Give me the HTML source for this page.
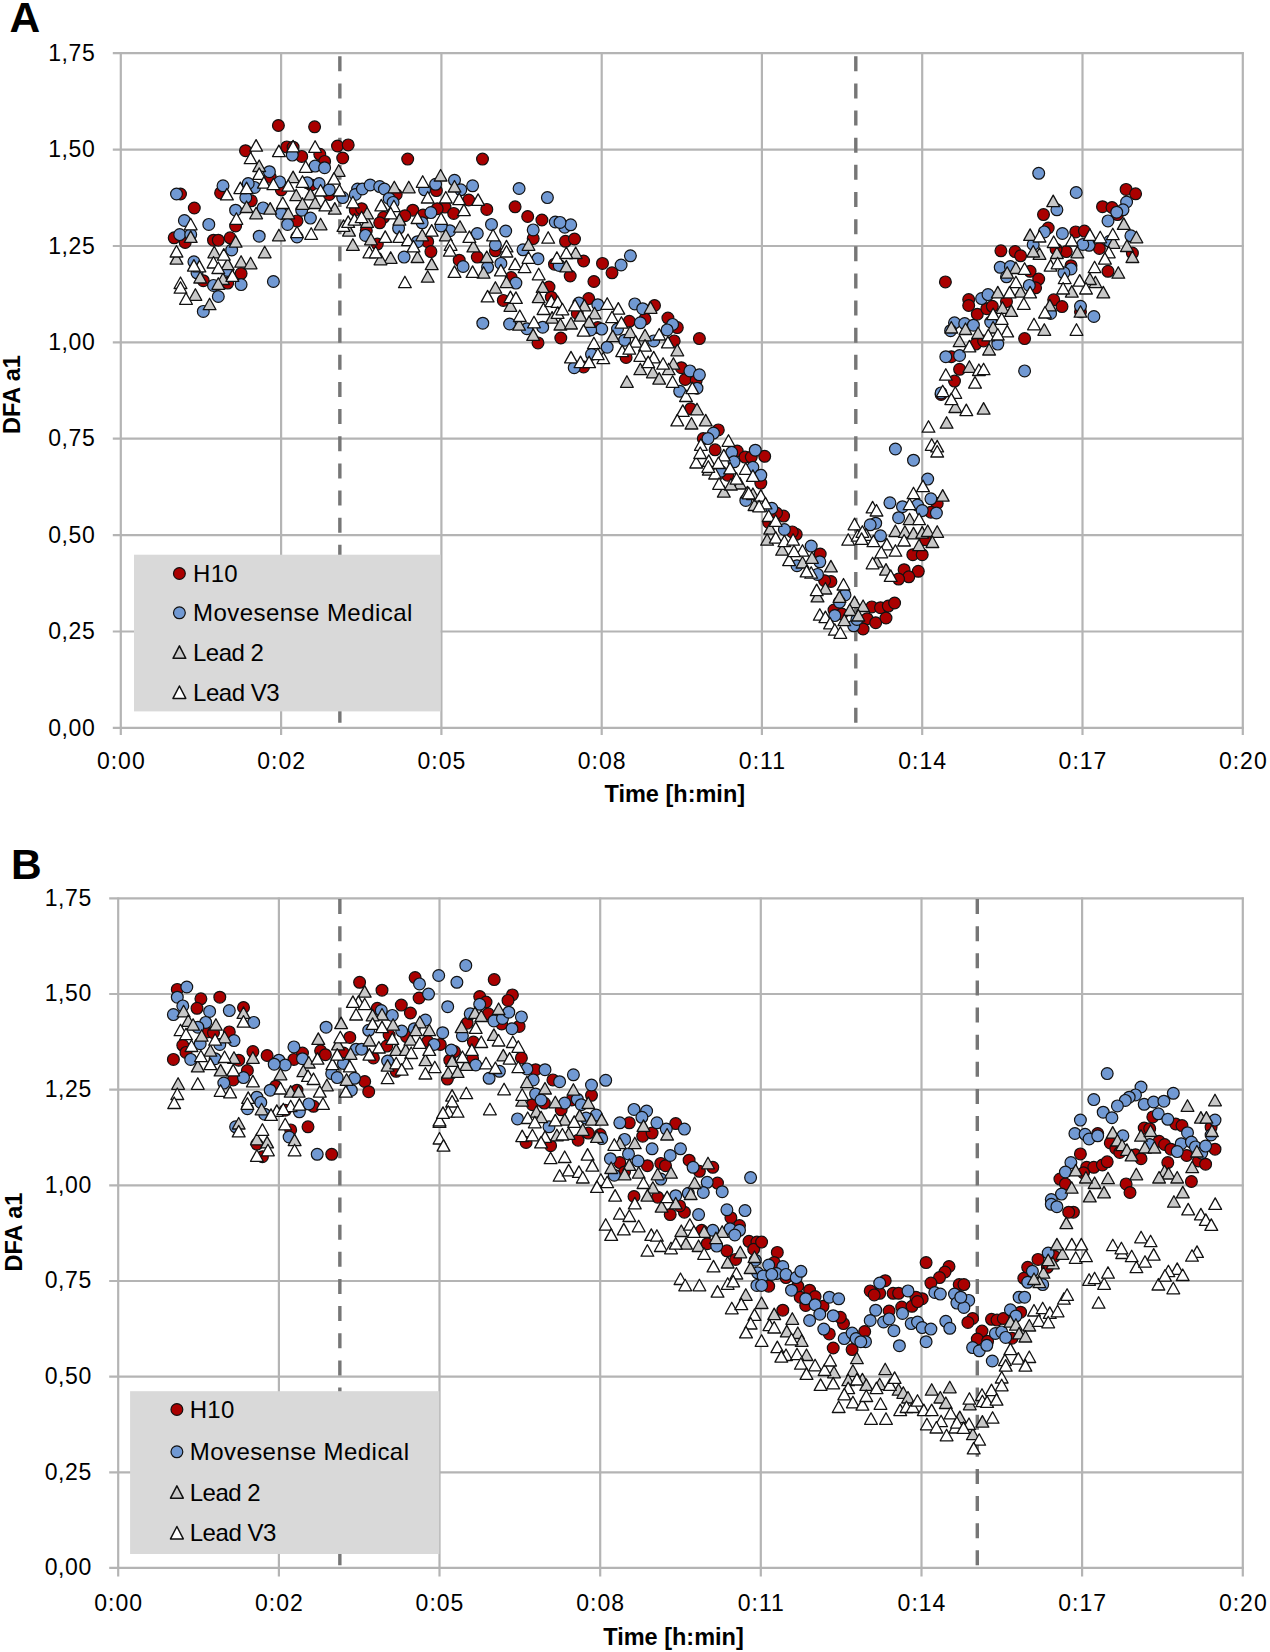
<!DOCTYPE html>
<html><head><meta charset="utf-8"><style>
html,body{margin:0;padding:0;background:#fff;}
body{width:1270px;height:1652px;overflow:hidden;}
svg{display:block;}
text{font-family:"Liberation Sans", sans-serif;fill:#000;}
.yl{font-size:23px;text-anchor:end;letter-spacing:0.6px;}
.xl{font-size:23px;text-anchor:middle;letter-spacing:1px;}
.ti{font-size:23.5px;font-weight:bold;text-anchor:middle;}
.lg{font-size:24px;letter-spacing:0.45px;}
.pl{font-size:42.5px;font-weight:bold;}
.R{stroke:#111;stroke-width:1.2;}
.B{stroke:#111;stroke-width:1.2;}
.G{stroke:#111;stroke-width:1.3;stroke-linejoin:round;}
.W{stroke:#111;stroke-width:1.3;stroke-linejoin:round;}
</style></head><body>
<svg width="1270" height="1652" viewBox="0 0 1270 1652">

<g stroke="#b4b4b4" stroke-width="2.2"><line x1="112.8" y1="53.2" x2="1243.8" y2="53.2"/><line x1="112.8" y1="149.6" x2="1243.8" y2="149.6"/><line x1="112.8" y1="246.0" x2="1243.8" y2="246.0"/><line x1="112.8" y1="342.4" x2="1243.8" y2="342.4"/><line x1="112.8" y1="438.7" x2="1243.8" y2="438.7"/><line x1="112.8" y1="535.1" x2="1243.8" y2="535.1"/><line x1="112.8" y1="631.5" x2="1243.8" y2="631.5"/><line x1="112.8" y1="727.9" x2="1243.8" y2="727.9"/><line x1="120.8" y1="52.2" x2="120.8" y2="734.9"/><line x1="281.1" y1="52.2" x2="281.1" y2="734.9"/><line x1="441.4" y1="52.2" x2="441.4" y2="734.9"/><line x1="601.7" y1="52.2" x2="601.7" y2="734.9"/><line x1="761.9" y1="52.2" x2="761.9" y2="734.9"/><line x1="922.2" y1="52.2" x2="922.2" y2="734.9"/><line x1="1082.5" y1="52.2" x2="1082.5" y2="734.9"/><line x1="1242.8" y1="52.2" x2="1242.8" y2="734.9"/></g>
<line x1="339.85" y1="56.3" x2="339.85" y2="723" stroke="#767676" stroke-width="3.4" stroke-dasharray="15 12.14"/>
<line x1="855.8" y1="56.3" x2="855.8" y2="723" stroke="#767676" stroke-width="3.4" stroke-dasharray="15 12.14"/>
<text class="yl" x="95.4" y="60.9">1,75</text>
<text class="yl" x="95.4" y="157.3">1,50</text>
<text class="yl" x="95.4" y="253.7">1,25</text>
<text class="yl" x="95.4" y="350.1">1,00</text>
<text class="yl" x="95.4" y="446.4">0,75</text>
<text class="yl" x="95.4" y="542.8">0,50</text>
<text class="yl" x="95.4" y="639.2">0,25</text>
<text class="yl" x="95.4" y="735.6">0,00</text>
<text class="xl" x="121.3" y="769.3">0:00</text>
<text class="xl" x="281.6" y="769.3">0:02</text>
<text class="xl" x="441.9" y="769.3">0:05</text>
<text class="xl" x="602.2" y="769.3">0:08</text>
<text class="xl" x="762.4" y="769.3">0:11</text>
<text class="xl" x="922.7" y="769.3">0:14</text>
<text class="xl" x="1083.0" y="769.3">0:17</text>
<text class="xl" x="1243.3" y="769.3">0:20</text>
<text class="ti" x="674.8" y="801.8">Time [h:min]</text>
<text class="ti" transform="translate(20.2,394.5) rotate(-90)" x="0" y="0">DFA a1</text>
<text class="pl" x="9.6" y="32.2">A</text>
<g class="R"><circle cx="278.4" cy="125.5" r="5.9" fill="#aa0000"/><circle cx="314.6" cy="126.8" r="5.9" fill="#aa0000"/><circle cx="245.5" cy="150.7" r="5.9" fill="#aa0000"/><circle cx="286.8" cy="146.9" r="5.9" fill="#aa0000"/><circle cx="293.1" cy="147.2" r="5.9" fill="#aa0000"/><circle cx="301.7" cy="156.4" r="5.9" fill="#aa0000"/><circle cx="319.8" cy="154.3" r="5.9" fill="#aa0000"/><circle cx="324.6" cy="161.4" r="5.9" fill="#aa0000"/><circle cx="337.5" cy="146.0" r="5.9" fill="#aa0000"/><circle cx="348.2" cy="144.9" r="5.9" fill="#aa0000"/><circle cx="342.7" cy="158.0" r="5.9" fill="#aa0000"/><circle cx="180.5" cy="194.0" r="5.9" fill="#aa0000"/><circle cx="220.6" cy="192.9" r="5.9" fill="#aa0000"/><circle cx="194.3" cy="208.0" r="5.9" fill="#aa0000"/><circle cx="251.3" cy="200.8" r="5.9" fill="#aa0000"/><circle cx="281.3" cy="189.8" r="5.9" fill="#aa0000"/><circle cx="297.0" cy="220.9" r="5.9" fill="#aa0000"/><circle cx="235.6" cy="226.0" r="5.9" fill="#aa0000"/><circle cx="174.2" cy="237.8" r="5.9" fill="#aa0000"/><circle cx="185.2" cy="242.5" r="5.9" fill="#aa0000"/><circle cx="213.5" cy="240.2" r="5.9" fill="#aa0000"/><circle cx="218.3" cy="240.2" r="5.9" fill="#aa0000"/><circle cx="230.1" cy="237.8" r="5.9" fill="#aa0000"/><circle cx="329.3" cy="194.5" r="5.9" fill="#aa0000"/><circle cx="355.3" cy="210.2" r="5.9" fill="#aa0000"/><circle cx="270.2" cy="177.2" r="5.9" fill="#aa0000"/><circle cx="311.2" cy="185.0" r="5.9" fill="#aa0000"/><circle cx="241.1" cy="273.6" r="5.9" fill="#aa0000"/><circle cx="203.3" cy="280.7" r="5.9" fill="#aa0000"/><circle cx="227.7" cy="283.1" r="5.9" fill="#aa0000"/><circle cx="407.7" cy="159.1" r="5.9" fill="#aa0000"/><circle cx="482.5" cy="159.1" r="5.9" fill="#aa0000"/><circle cx="436.4" cy="190.6" r="5.9" fill="#aa0000"/><circle cx="396.2" cy="194.5" r="5.9" fill="#aa0000"/><circle cx="468.7" cy="200.0" r="5.9" fill="#aa0000"/><circle cx="486.8" cy="209.4" r="5.9" fill="#aa0000"/><circle cx="515.1" cy="206.8" r="5.9" fill="#aa0000"/><circle cx="527.7" cy="216.5" r="5.9" fill="#aa0000"/><circle cx="541.9" cy="220.0" r="5.9" fill="#aa0000"/><circle cx="412.8" cy="210.2" r="5.9" fill="#aa0000"/><circle cx="445.0" cy="207.1" r="5.9" fill="#aa0000"/><circle cx="453.7" cy="213.4" r="5.9" fill="#aa0000"/><circle cx="404.9" cy="215.7" r="5.9" fill="#aa0000"/><circle cx="383.6" cy="217.3" r="5.9" fill="#aa0000"/><circle cx="379.7" cy="222.8" r="5.9" fill="#aa0000"/><circle cx="423.0" cy="215.0" r="5.9" fill="#aa0000"/><circle cx="437.2" cy="208.7" r="5.9" fill="#aa0000"/><circle cx="533.2" cy="238.6" r="5.9" fill="#aa0000"/><circle cx="361.6" cy="208.7" r="5.9" fill="#aa0000"/><circle cx="366.3" cy="230.7" r="5.9" fill="#aa0000"/><circle cx="427.7" cy="241.7" r="5.9" fill="#aa0000"/><circle cx="377.3" cy="244.1" r="5.9" fill="#aa0000"/><circle cx="459.2" cy="260.2" r="5.9" fill="#aa0000"/><circle cx="477.3" cy="257.1" r="5.9" fill="#aa0000"/><circle cx="495.4" cy="250.8" r="5.9" fill="#aa0000"/><circle cx="511.2" cy="277.6" r="5.9" fill="#aa0000"/><circle cx="549.0" cy="287.0" r="5.9" fill="#aa0000"/><circle cx="503.3" cy="300.4" r="5.9" fill="#aa0000"/><circle cx="538.0" cy="342.9" r="5.9" fill="#aa0000"/><circle cx="560.8" cy="338.0" r="5.9" fill="#aa0000"/><circle cx="551.3" cy="297.2" r="5.9" fill="#aa0000"/><circle cx="554.5" cy="264.2" r="5.9" fill="#aa0000"/><circle cx="430.9" cy="251.6" r="5.9" fill="#aa0000"/><circle cx="565.5" cy="241.3" r="5.9" fill="#aa0000"/><circle cx="574.5" cy="239.0" r="5.9" fill="#aa0000"/><circle cx="583.6" cy="261.0" r="5.9" fill="#aa0000"/><circle cx="602.5" cy="263.4" r="5.9" fill="#aa0000"/><circle cx="612.0" cy="272.8" r="5.9" fill="#aa0000"/><circle cx="570.2" cy="276.0" r="5.9" fill="#aa0000"/><circle cx="593.9" cy="281.5" r="5.9" fill="#aa0000"/><circle cx="588.7" cy="298.6" r="5.9" fill="#aa0000"/><circle cx="629.3" cy="321.3" r="5.9" fill="#aa0000"/><circle cx="645.0" cy="318.9" r="5.9" fill="#aa0000"/><circle cx="654.5" cy="305.5" r="5.9" fill="#aa0000"/><circle cx="667.9" cy="318.1" r="5.9" fill="#aa0000"/><circle cx="677.3" cy="327.6" r="5.9" fill="#aa0000"/><circle cx="674.2" cy="340.9" r="5.9" fill="#aa0000"/><circle cx="699.4" cy="338.6" r="5.9" fill="#aa0000"/><circle cx="597.8" cy="327.6" r="5.9" fill="#aa0000"/><circle cx="626.1" cy="357.5" r="5.9" fill="#aa0000"/><circle cx="681.3" cy="367.7" r="5.9" fill="#aa0000"/><circle cx="685.2" cy="379.5" r="5.9" fill="#aa0000"/><circle cx="696.2" cy="380.3" r="5.9" fill="#aa0000"/><circle cx="690.7" cy="408.7" r="5.9" fill="#aa0000"/><circle cx="718.3" cy="429.9" r="5.9" fill="#aa0000"/><circle cx="703.3" cy="438.6" r="5.9" fill="#aa0000"/><circle cx="715.1" cy="449.8" r="5.9" fill="#aa0000"/><circle cx="737.2" cy="451.0" r="5.9" fill="#aa0000"/><circle cx="577.3" cy="313.4" r="5.9" fill="#aa0000"/><circle cx="583.6" cy="366.9" r="5.9" fill="#aa0000"/><circle cx="745.0" cy="457.1" r="5.9" fill="#aa0000"/><circle cx="751.3" cy="457.1" r="5.9" fill="#aa0000"/><circle cx="764.7" cy="456.3" r="5.9" fill="#aa0000"/><circle cx="727.7" cy="475.2" r="5.9" fill="#aa0000"/><circle cx="760.8" cy="483.1" r="5.9" fill="#aa0000"/><circle cx="783.6" cy="516.1" r="5.9" fill="#aa0000"/><circle cx="776.5" cy="513.0" r="5.9" fill="#aa0000"/><circle cx="796.2" cy="534.3" r="5.9" fill="#aa0000"/><circle cx="792.3" cy="531.9" r="5.9" fill="#aa0000"/><circle cx="820.2" cy="554.0" r="5.9" fill="#aa0000"/><circle cx="830.9" cy="581.5" r="5.9" fill="#aa0000"/><circle cx="824.6" cy="580.7" r="5.9" fill="#aa0000"/><circle cx="768.7" cy="522.4" r="5.9" fill="#aa0000"/><circle cx="951.3" cy="356.7" r="5.9" fill="#aa0000"/><circle cx="959.6" cy="369.3" r="5.9" fill="#aa0000"/><circle cx="954.5" cy="381.1" r="5.9" fill="#aa0000"/><circle cx="941.1" cy="394.5" r="5.9" fill="#aa0000"/><circle cx="937.2" cy="503.5" r="5.9" fill="#aa0000"/><circle cx="930.9" cy="512.2" r="5.9" fill="#aa0000"/><circle cx="925.4" cy="539.8" r="5.9" fill="#aa0000"/><circle cx="912.8" cy="554.7" r="5.9" fill="#aa0000"/><circle cx="922.2" cy="554.7" r="5.9" fill="#aa0000"/><circle cx="904.1" cy="569.7" r="5.9" fill="#aa0000"/><circle cx="918.3" cy="571.3" r="5.9" fill="#aa0000"/><circle cx="908.8" cy="576.8" r="5.9" fill="#aa0000"/><circle cx="898.6" cy="579.1" r="5.9" fill="#aa0000"/><circle cx="834.0" cy="610.1" r="5.9" fill="#aa0000"/><circle cx="841.9" cy="614.0" r="5.9" fill="#aa0000"/><circle cx="871.8" cy="606.9" r="5.9" fill="#aa0000"/><circle cx="880.5" cy="607.7" r="5.9" fill="#aa0000"/><circle cx="888.3" cy="606.1" r="5.9" fill="#aa0000"/><circle cx="894.6" cy="603.0" r="5.9" fill="#aa0000"/><circle cx="867.1" cy="618.7" r="5.9" fill="#aa0000"/><circle cx="875.7" cy="622.7" r="5.9" fill="#aa0000"/><circle cx="886.0" cy="618.0" r="5.9" fill="#aa0000"/><circle cx="863.1" cy="629.0" r="5.9" fill="#aa0000"/><circle cx="1126.1" cy="189.4" r="5.9" fill="#aa0000"/><circle cx="1135.6" cy="193.8" r="5.9" fill="#aa0000"/><circle cx="1102.5" cy="206.7" r="5.9" fill="#aa0000"/><circle cx="1112.0" cy="207.5" r="5.9" fill="#aa0000"/><circle cx="1117.5" cy="214.6" r="5.9" fill="#aa0000"/><circle cx="1043.5" cy="214.6" r="5.9" fill="#aa0000"/><circle cx="1048.2" cy="228.0" r="5.9" fill="#aa0000"/><circle cx="1075.7" cy="231.9" r="5.9" fill="#aa0000"/><circle cx="1084.4" cy="231.1" r="5.9" fill="#aa0000"/><circle cx="1099.4" cy="248.4" r="5.9" fill="#aa0000"/><circle cx="1132.4" cy="253.1" r="5.9" fill="#aa0000"/><circle cx="1066.3" cy="251.6" r="5.9" fill="#aa0000"/><circle cx="1056.1" cy="249.2" r="5.9" fill="#aa0000"/><circle cx="1000.9" cy="250.8" r="5.9" fill="#aa0000"/><circle cx="1015.1" cy="251.6" r="5.9" fill="#aa0000"/><circle cx="1020.6" cy="255.8" r="5.9" fill="#aa0000"/><circle cx="1030.1" cy="271.3" r="5.9" fill="#aa0000"/><circle cx="1038.7" cy="279.1" r="5.9" fill="#aa0000"/><circle cx="1035.6" cy="287.8" r="5.9" fill="#aa0000"/><circle cx="1071.0" cy="265.7" r="5.9" fill="#aa0000"/><circle cx="1108.0" cy="271.3" r="5.9" fill="#aa0000"/><circle cx="1053.7" cy="299.8" r="5.9" fill="#aa0000"/><circle cx="968.7" cy="299.6" r="5.9" fill="#aa0000"/><circle cx="968.7" cy="305.5" r="5.9" fill="#aa0000"/><circle cx="977.3" cy="314.2" r="5.9" fill="#aa0000"/><circle cx="986.8" cy="308.7" r="5.9" fill="#aa0000"/><circle cx="992.3" cy="306.3" r="5.9" fill="#aa0000"/><circle cx="1006.5" cy="301.6" r="5.9" fill="#aa0000"/><circle cx="1062.0" cy="306.6" r="5.9" fill="#aa0000"/><circle cx="1024.6" cy="338.6" r="5.9" fill="#aa0000"/><circle cx="975.7" cy="344.1" r="5.9" fill="#aa0000"/><circle cx="983.6" cy="340.9" r="5.9" fill="#aa0000"/><circle cx="1080.5" cy="311.8" r="5.9" fill="#aa0000"/><circle cx="945.4" cy="281.9" r="5.9" fill="#aa0000"/></g>
<g class="B"><circle cx="176.5" cy="194.0" r="5.9" fill="#7199d3"/><circle cx="223.0" cy="185.8" r="5.9" fill="#7199d3"/><circle cx="269.4" cy="171.7" r="5.9" fill="#7199d3"/><circle cx="279.7" cy="181.9" r="5.9" fill="#7199d3"/><circle cx="315.1" cy="166.1" r="5.9" fill="#7199d3"/><circle cx="324.6" cy="167.7" r="5.9" fill="#7199d3"/><circle cx="254.5" cy="187.4" r="5.9" fill="#7199d3"/><circle cx="248.2" cy="183.5" r="5.9" fill="#7199d3"/><circle cx="245.8" cy="197.6" r="5.9" fill="#7199d3"/><circle cx="235.6" cy="210.2" r="5.9" fill="#7199d3"/><circle cx="263.1" cy="207.9" r="5.9" fill="#7199d3"/><circle cx="281.3" cy="213.4" r="5.9" fill="#7199d3"/><circle cx="301.7" cy="210.2" r="5.9" fill="#7199d3"/><circle cx="310.4" cy="218.1" r="5.9" fill="#7199d3"/><circle cx="287.6" cy="224.4" r="5.9" fill="#7199d3"/><circle cx="297.0" cy="237.0" r="5.9" fill="#7199d3"/><circle cx="259.2" cy="236.2" r="5.9" fill="#7199d3"/><circle cx="184.4" cy="220.5" r="5.9" fill="#7199d3"/><circle cx="208.8" cy="224.4" r="5.9" fill="#7199d3"/><circle cx="179.7" cy="234.6" r="5.9" fill="#7199d3"/><circle cx="190.7" cy="234.6" r="5.9" fill="#7199d3"/><circle cx="319.1" cy="183.5" r="5.9" fill="#7199d3"/><circle cx="307.2" cy="182.7" r="5.9" fill="#7199d3"/><circle cx="329.3" cy="189.8" r="5.9" fill="#7199d3"/><circle cx="342.7" cy="197.6" r="5.9" fill="#7199d3"/><circle cx="357.6" cy="189.0" r="5.9" fill="#7199d3"/><circle cx="355.3" cy="194.5" r="5.9" fill="#7199d3"/><circle cx="292.3" cy="155.1" r="5.9" fill="#7199d3"/><circle cx="193.9" cy="261.8" r="5.9" fill="#7199d3"/><circle cx="197.0" cy="272.8" r="5.9" fill="#7199d3"/><circle cx="213.5" cy="285.4" r="5.9" fill="#7199d3"/><circle cx="241.1" cy="284.6" r="5.9" fill="#7199d3"/><circle cx="273.4" cy="281.5" r="5.9" fill="#7199d3"/><circle cx="218.3" cy="296.5" r="5.9" fill="#7199d3"/><circle cx="203.3" cy="311.4" r="5.9" fill="#7199d3"/><circle cx="227.7" cy="270.5" r="5.9" fill="#7199d3"/><circle cx="231.7" cy="250.0" r="5.9" fill="#7199d3"/><circle cx="362.4" cy="189.0" r="5.9" fill="#7199d3"/><circle cx="370.2" cy="185.0" r="5.9" fill="#7199d3"/><circle cx="379.7" cy="186.6" r="5.9" fill="#7199d3"/><circle cx="384.4" cy="189.0" r="5.9" fill="#7199d3"/><circle cx="435.6" cy="184.3" r="5.9" fill="#7199d3"/><circle cx="454.5" cy="180.3" r="5.9" fill="#7199d3"/><circle cx="460.8" cy="189.8" r="5.9" fill="#7199d3"/><circle cx="472.6" cy="185.8" r="5.9" fill="#7199d3"/><circle cx="519.1" cy="188.5" r="5.9" fill="#7199d3"/><circle cx="547.4" cy="197.6" r="5.9" fill="#7199d3"/><circle cx="555.3" cy="222.0" r="5.9" fill="#7199d3"/><circle cx="389.1" cy="198.4" r="5.9" fill="#7199d3"/><circle cx="393.1" cy="202.4" r="5.9" fill="#7199d3"/><circle cx="430.9" cy="212.6" r="5.9" fill="#7199d3"/><circle cx="422.2" cy="222.8" r="5.9" fill="#7199d3"/><circle cx="398.6" cy="228.3" r="5.9" fill="#7199d3"/><circle cx="491.5" cy="224.4" r="5.9" fill="#7199d3"/><circle cx="505.7" cy="231.0" r="5.9" fill="#7199d3"/><circle cx="533.2" cy="229.9" r="5.9" fill="#7199d3"/><circle cx="477.3" cy="233.5" r="5.9" fill="#7199d3"/><circle cx="449.8" cy="230.7" r="5.9" fill="#7199d3"/><circle cx="365.5" cy="235.4" r="5.9" fill="#7199d3"/><circle cx="495.4" cy="244.9" r="5.9" fill="#7199d3"/><circle cx="441.1" cy="226.0" r="5.9" fill="#7199d3"/><circle cx="417.5" cy="241.7" r="5.9" fill="#7199d3"/><circle cx="523.0" cy="249.8" r="5.9" fill="#7199d3"/><circle cx="424.6" cy="189.8" r="5.9" fill="#7199d3"/><circle cx="404.1" cy="257.1" r="5.9" fill="#7199d3"/><circle cx="463.1" cy="266.5" r="5.9" fill="#7199d3"/><circle cx="487.6" cy="267.3" r="5.9" fill="#7199d3"/><circle cx="500.9" cy="263.4" r="5.9" fill="#7199d3"/><circle cx="515.9" cy="283.1" r="5.9" fill="#7199d3"/><circle cx="538.0" cy="258.7" r="5.9" fill="#7199d3"/><circle cx="482.8" cy="323.2" r="5.9" fill="#7199d3"/><circle cx="509.6" cy="324.0" r="5.9" fill="#7199d3"/><circle cx="526.9" cy="328.7" r="5.9" fill="#7199d3"/><circle cx="542.7" cy="327.2" r="5.9" fill="#7199d3"/><circle cx="559.2" cy="265.4" r="5.9" fill="#7199d3"/><circle cx="564.7" cy="227.2" r="5.9" fill="#7199d3"/><circle cx="570.7" cy="224.8" r="5.9" fill="#7199d3"/><circle cx="560.0" cy="222.4" r="5.9" fill="#7199d3"/><circle cx="630.4" cy="255.8" r="5.9" fill="#7199d3"/><circle cx="621.1" cy="265.0" r="5.9" fill="#7199d3"/><circle cx="597.8" cy="304.7" r="5.9" fill="#7199d3"/><circle cx="634.8" cy="303.9" r="5.9" fill="#7199d3"/><circle cx="642.7" cy="308.7" r="5.9" fill="#7199d3"/><circle cx="640.3" cy="322.8" r="5.9" fill="#7199d3"/><circle cx="672.6" cy="324.4" r="5.9" fill="#7199d3"/><circle cx="667.1" cy="329.9" r="5.9" fill="#7199d3"/><circle cx="601.7" cy="329.1" r="5.9" fill="#7199d3"/><circle cx="617.5" cy="329.1" r="5.9" fill="#7199d3"/><circle cx="624.6" cy="340.2" r="5.9" fill="#7199d3"/><circle cx="607.2" cy="347.2" r="5.9" fill="#7199d3"/><circle cx="653.7" cy="340.9" r="5.9" fill="#7199d3"/><circle cx="574.2" cy="367.7" r="5.9" fill="#7199d3"/><circle cx="689.9" cy="370.9" r="5.9" fill="#7199d3"/><circle cx="699.4" cy="374.8" r="5.9" fill="#7199d3"/><circle cx="697.0" cy="388.2" r="5.9" fill="#7199d3"/><circle cx="679.7" cy="391.3" r="5.9" fill="#7199d3"/><circle cx="713.5" cy="433.1" r="5.9" fill="#7199d3"/><circle cx="708.0" cy="438.6" r="5.9" fill="#7199d3"/><circle cx="755.3" cy="450.2" r="5.9" fill="#7199d3"/><circle cx="578.9" cy="303.1" r="5.9" fill="#7199d3"/><circle cx="590.7" cy="329.9" r="5.9" fill="#7199d3"/><circle cx="591.5" cy="354.3" r="5.9" fill="#7199d3"/><circle cx="731.7" cy="452.4" r="5.9" fill="#7199d3"/><circle cx="734.0" cy="461.8" r="5.9" fill="#7199d3"/><circle cx="752.9" cy="467.3" r="5.9" fill="#7199d3"/><circle cx="760.8" cy="475.2" r="5.9" fill="#7199d3"/><circle cx="745.8" cy="500.4" r="5.9" fill="#7199d3"/><circle cx="771.8" cy="508.3" r="5.9" fill="#7199d3"/><circle cx="784.4" cy="529.5" r="5.9" fill="#7199d3"/><circle cx="811.2" cy="546.1" r="5.9" fill="#7199d3"/><circle cx="819.8" cy="561.8" r="5.9" fill="#7199d3"/><circle cx="797.0" cy="565.7" r="5.9" fill="#7199d3"/><circle cx="817.5" cy="574.4" r="5.9" fill="#7199d3"/><circle cx="845.0" cy="594.9" r="5.9" fill="#7199d3"/><circle cx="720.6" cy="471.3" r="5.9" fill="#7199d3"/><circle cx="954.5" cy="322.8" r="5.9" fill="#7199d3"/><circle cx="950.6" cy="330.7" r="5.9" fill="#7199d3"/><circle cx="945.8" cy="356.7" r="5.9" fill="#7199d3"/><circle cx="959.6" cy="355.5" r="5.9" fill="#7199d3"/><circle cx="941.1" cy="392.9" r="5.9" fill="#7199d3"/><circle cx="895.4" cy="449.0" r="5.9" fill="#7199d3"/><circle cx="913.5" cy="460.2" r="5.9" fill="#7199d3"/><circle cx="927.7" cy="479.1" r="5.9" fill="#7199d3"/><circle cx="889.9" cy="502.8" r="5.9" fill="#7199d3"/><circle cx="902.5" cy="506.7" r="5.9" fill="#7199d3"/><circle cx="917.5" cy="505.1" r="5.9" fill="#7199d3"/><circle cx="922.2" cy="510.6" r="5.9" fill="#7199d3"/><circle cx="930.9" cy="498.8" r="5.9" fill="#7199d3"/><circle cx="936.4" cy="513.0" r="5.9" fill="#7199d3"/><circle cx="898.6" cy="517.7" r="5.9" fill="#7199d3"/><circle cx="875.7" cy="523.2" r="5.9" fill="#7199d3"/><circle cx="870.2" cy="524.8" r="5.9" fill="#7199d3"/><circle cx="880.5" cy="535.8" r="5.9" fill="#7199d3"/><circle cx="834.8" cy="615.6" r="5.9" fill="#7199d3"/><circle cx="853.7" cy="625.8" r="5.9" fill="#7199d3"/><circle cx="856.9" cy="619.5" r="5.9" fill="#7199d3"/><circle cx="839.5" cy="602.2" r="5.9" fill="#7199d3"/><circle cx="1038.7" cy="173.3" r="5.9" fill="#7199d3"/><circle cx="1076.2" cy="192.5" r="5.9" fill="#7199d3"/><circle cx="1056.9" cy="209.8" r="5.9" fill="#7199d3"/><circle cx="1126.6" cy="202.0" r="5.9" fill="#7199d3"/><circle cx="1123.0" cy="209.8" r="5.9" fill="#7199d3"/><circle cx="1116.7" cy="212.2" r="5.9" fill="#7199d3"/><circle cx="1108.0" cy="220.9" r="5.9" fill="#7199d3"/><circle cx="1044.3" cy="231.9" r="5.9" fill="#7199d3"/><circle cx="1062.4" cy="233.5" r="5.9" fill="#7199d3"/><circle cx="1130.9" cy="235.8" r="5.9" fill="#7199d3"/><circle cx="1033.2" cy="244.5" r="5.9" fill="#7199d3"/><circle cx="1089.1" cy="245.3" r="5.9" fill="#7199d3"/><circle cx="1082.8" cy="244.5" r="5.9" fill="#7199d3"/><circle cx="1000.2" cy="267.3" r="5.9" fill="#7199d3"/><circle cx="1010.4" cy="266.5" r="5.9" fill="#7199d3"/><circle cx="1006.5" cy="276.8" r="5.9" fill="#7199d3"/><circle cx="1029.3" cy="285.4" r="5.9" fill="#7199d3"/><circle cx="1071.0" cy="268.9" r="5.9" fill="#7199d3"/><circle cx="1063.9" cy="272.8" r="5.9" fill="#7199d3"/><circle cx="981.6" cy="298.6" r="5.9" fill="#7199d3"/><circle cx="988.0" cy="294.6" r="5.9" fill="#7199d3"/><circle cx="1109.6" cy="241.3" r="5.9" fill="#7199d3"/><circle cx="964.7" cy="323.6" r="5.9" fill="#7199d3"/><circle cx="973.4" cy="325.2" r="5.9" fill="#7199d3"/><circle cx="990.7" cy="322.0" r="5.9" fill="#7199d3"/><circle cx="997.8" cy="344.1" r="5.9" fill="#7199d3"/><circle cx="1024.6" cy="370.9" r="5.9" fill="#7199d3"/><circle cx="1080.5" cy="306.3" r="5.9" fill="#7199d3"/><circle cx="1093.9" cy="316.5" r="5.9" fill="#7199d3"/><circle cx="1050.6" cy="313.4" r="5.9" fill="#7199d3"/></g>
<g class="G"><path d="M259.2 160.0L265.6 171.5H252.8Z" fill="#c8c8c8"/><path d="M293.1 171.1L299.5 182.6H286.7Z" fill="#c8c8c8"/><path d="M246.6 201.0L253.0 212.5H240.2Z" fill="#c8c8c8"/><path d="M256.1 207.3L262.5 218.8H249.7Z" fill="#c8c8c8"/><path d="M270.2 202.6L276.6 214.1H263.8Z" fill="#c8c8c8"/><path d="M288.3 207.3L294.7 218.8H281.9Z" fill="#c8c8c8"/><path d="M296.2 189.2L302.6 200.7H289.8Z" fill="#c8c8c8"/><path d="M310.4 188.4L316.8 199.9H304.0Z" fill="#c8c8c8"/><path d="M315.1 197.0L321.5 208.5H308.7Z" fill="#c8c8c8"/><path d="M320.6 218.3L327.0 229.8H314.2Z" fill="#c8c8c8"/><path d="M334.8 202.6L341.2 214.1H328.4Z" fill="#c8c8c8"/><path d="M338.7 164.8L345.1 176.3H332.3Z" fill="#c8c8c8"/><path d="M302.5 197.8L308.9 209.3H296.1Z" fill="#c8c8c8"/><path d="M190.7 230.9L197.1 242.4H184.3Z" fill="#c8c8c8"/><path d="M235.6 235.6L242.0 247.1H229.2Z" fill="#c8c8c8"/><path d="M278.9 229.3L285.3 240.8H272.5Z" fill="#c8c8c8"/><path d="M349.0 224.6L355.4 236.1H342.6Z" fill="#c8c8c8"/><path d="M352.9 238.8L359.3 250.3H346.5Z" fill="#c8c8c8"/><path d="M176.5 252.6L182.9 264.1H170.1Z" fill="#c8c8c8"/><path d="M214.3 246.3L220.7 257.8H207.9Z" fill="#c8c8c8"/><path d="M264.7 246.3L271.1 257.8H258.3Z" fill="#c8c8c8"/><path d="M227.7 258.1L234.1 269.6H221.3Z" fill="#c8c8c8"/><path d="M241.1 255.7L247.5 267.2H234.7Z" fill="#c8c8c8"/><path d="M250.6 257.3L257.0 268.8H244.2Z" fill="#c8c8c8"/><path d="M200.2 271.5L206.6 283.0H193.8Z" fill="#c8c8c8"/><path d="M223.0 273.0L229.4 284.5H216.6Z" fill="#c8c8c8"/><path d="M218.3 277.8L224.7 289.3H211.9Z" fill="#c8c8c8"/><path d="M195.4 288.8L201.8 300.3H189.0Z" fill="#c8c8c8"/><path d="M209.6 298.2L216.0 309.7H203.2Z" fill="#c8c8c8"/><path d="M440.6 169.5L447.0 181.0H434.2Z" fill="#c8c8c8"/><path d="M394.3 181.3L400.7 192.8H387.9Z" fill="#c8c8c8"/><path d="M408.8 181.3L415.2 192.8H402.4Z" fill="#c8c8c8"/><path d="M454.5 180.5L460.9 192.0H448.1Z" fill="#c8c8c8"/><path d="M399.4 213.6L405.8 225.1H393.0Z" fill="#c8c8c8"/><path d="M367.1 215.9L373.5 227.4H360.7Z" fill="#c8c8c8"/><path d="M460.0 220.7L466.4 232.2H453.6Z" fill="#c8c8c8"/><path d="M422.2 229.3L428.6 240.8H415.8Z" fill="#c8c8c8"/><path d="M445.8 229.3L452.2 240.8H439.4Z" fill="#c8c8c8"/><path d="M371.0 233.3L377.4 244.8H364.6Z" fill="#c8c8c8"/><path d="M528.5 238.8L534.9 250.3H522.1Z" fill="#c8c8c8"/><path d="M473.4 240.4L479.8 251.9H467.0Z" fill="#c8c8c8"/><path d="M367.1 207.3L373.5 218.8H360.7Z" fill="#c8c8c8"/><path d="M390.7 251.8L397.1 263.3H384.3Z" fill="#c8c8c8"/><path d="M380.5 253.3L386.9 264.8H374.1Z" fill="#c8c8c8"/><path d="M417.5 251.0L423.9 262.5H411.1Z" fill="#c8c8c8"/><path d="M431.7 258.1L438.1 269.6H425.3Z" fill="#c8c8c8"/><path d="M427.7 270.7L434.1 282.2H421.3Z" fill="#c8c8c8"/><path d="M486.8 251.0L493.2 262.5H480.4Z" fill="#c8c8c8"/><path d="M483.6 266.7L490.0 278.2H477.2Z" fill="#c8c8c8"/><path d="M506.5 276.2L512.9 287.7H500.1Z" fill="#c8c8c8"/><path d="M495.4 281.7L501.8 293.2H489.0Z" fill="#c8c8c8"/><path d="M542.7 280.9L549.1 292.4H536.3Z" fill="#c8c8c8"/><path d="M538.7 291.1L545.1 302.6H532.3Z" fill="#c8c8c8"/><path d="M510.4 299.8L516.8 311.3H504.0Z" fill="#c8c8c8"/><path d="M552.1 311.6L558.5 323.1H545.7Z" fill="#c8c8c8"/><path d="M533.2 328.9L539.6 340.4H526.8Z" fill="#c8c8c8"/><path d="M519.1 318.7L525.5 330.2H512.7Z" fill="#c8c8c8"/><path d="M560.4 318.5L566.8 330.0H554.0Z" fill="#c8c8c8"/><path d="M575.7 247.0L582.1 258.5H569.3Z" fill="#c8c8c8"/><path d="M566.3 260.4L572.7 271.9H559.9Z" fill="#c8c8c8"/><path d="M584.4 299.4L590.8 310.9H578.0Z" fill="#c8c8c8"/><path d="M580.5 309.6L586.9 321.1H574.1Z" fill="#c8c8c8"/><path d="M594.6 307.3L601.0 318.8H588.2Z" fill="#c8c8c8"/><path d="M571.0 317.5L577.4 329.0H564.6Z" fill="#c8c8c8"/><path d="M589.1 315.9L595.5 327.4H582.7Z" fill="#c8c8c8"/><path d="M612.8 330.1L619.2 341.6H606.4Z" fill="#c8c8c8"/><path d="M630.1 326.2L636.5 337.7H623.7Z" fill="#c8c8c8"/><path d="M645.0 329.3L651.4 340.8H638.6Z" fill="#c8c8c8"/><path d="M677.3 344.3L683.7 355.8H670.9Z" fill="#c8c8c8"/><path d="M650.6 301.8L657.0 313.3H644.2Z" fill="#c8c8c8"/><path d="M673.4 357.7L679.8 369.2H667.0Z" fill="#c8c8c8"/><path d="M640.3 363.2L646.7 374.7H633.9Z" fill="#c8c8c8"/><path d="M626.9 375.8L633.3 387.3H620.5Z" fill="#c8c8c8"/><path d="M652.9 366.3L659.3 377.8H646.5Z" fill="#c8c8c8"/><path d="M659.2 372.6L665.6 384.1H652.8Z" fill="#c8c8c8"/><path d="M697.0 403.3L703.4 414.8H690.6Z" fill="#c8c8c8"/><path d="M691.5 417.5L697.9 429.0H685.1Z" fill="#c8c8c8"/><path d="M705.7 414.4L712.1 425.9H699.3Z" fill="#c8c8c8"/><path d="M668.7 363.2L675.1 374.7H662.3Z" fill="#c8c8c8"/><path d="M708.8 463.6L715.2 475.1H702.4Z" fill="#c8c8c8"/><path d="M723.8 485.6L730.2 497.1H717.4Z" fill="#c8c8c8"/><path d="M739.9 477.5L746.3 489.0H733.5Z" fill="#c8c8c8"/><path d="M747.4 486.4L753.8 497.9H741.0Z" fill="#c8c8c8"/><path d="M752.9 488.0L759.3 499.5H746.5Z" fill="#c8c8c8"/><path d="M754.5 499.0L760.9 510.5H748.1Z" fill="#c8c8c8"/><path d="M770.2 522.6L776.6 534.1H763.8Z" fill="#c8c8c8"/><path d="M767.1 533.7L773.5 545.2H760.7Z" fill="#c8c8c8"/><path d="M782.1 543.7L788.5 555.2H775.7Z" fill="#c8c8c8"/><path d="M802.5 556.5L808.9 568.0H796.1Z" fill="#c8c8c8"/><path d="M812.0 551.8L818.4 563.3H805.6Z" fill="#c8c8c8"/><path d="M830.9 560.4L837.3 571.9H824.5Z" fill="#c8c8c8"/><path d="M825.4 582.5L831.8 594.0H819.0Z" fill="#c8c8c8"/><path d="M839.5 590.9L845.9 602.4H833.1Z" fill="#c8c8c8"/><path d="M817.5 590.4L823.9 601.9H811.1Z" fill="#c8c8c8"/><path d="M730.9 478.5L737.3 490.0H724.5Z" fill="#c8c8c8"/><path d="M951.3 321.5L957.7 333.0H944.9Z" fill="#c8c8c8"/><path d="M959.6 335.2L966.0 346.7H953.2Z" fill="#c8c8c8"/><path d="M955.3 401.0L961.7 412.5H948.9Z" fill="#c8c8c8"/><path d="M946.6 416.7L953.0 428.2H940.2Z" fill="#c8c8c8"/><path d="M909.6 513.2L916.0 524.7H903.2Z" fill="#c8c8c8"/><path d="M942.7 489.6L949.1 501.1H936.3Z" fill="#c8c8c8"/><path d="M895.4 525.0L901.8 536.5H889.0Z" fill="#c8c8c8"/><path d="M904.9 525.8L911.3 537.3H898.5Z" fill="#c8c8c8"/><path d="M913.5 527.4L919.9 538.9H907.1Z" fill="#c8c8c8"/><path d="M922.2 526.6L928.6 538.1H915.8Z" fill="#c8c8c8"/><path d="M927.7 525.0L934.1 536.5H921.3Z" fill="#c8c8c8"/><path d="M937.2 525.8L943.6 537.3H930.8Z" fill="#c8c8c8"/><path d="M919.1 539.2L925.5 550.7H912.7Z" fill="#c8c8c8"/><path d="M932.4 536.0L938.8 547.5H926.0Z" fill="#c8c8c8"/><path d="M876.5 555.7L882.9 567.2H870.1Z" fill="#c8c8c8"/><path d="M886.0 563.6L892.4 575.1H879.6Z" fill="#c8c8c8"/><path d="M861.6 528.9L868.0 540.4H855.2Z" fill="#c8c8c8"/><path d="M854.5 596.1L860.9 607.6H848.1Z" fill="#c8c8c8"/><path d="M863.1 600.0L869.5 611.5H856.7Z" fill="#c8c8c8"/><path d="M849.8 604.0L856.2 615.5H843.4Z" fill="#c8c8c8"/><path d="M858.4 609.5L864.8 621.0H852.0Z" fill="#c8c8c8"/><path d="M844.3 614.2L850.7 625.7H837.9Z" fill="#c8c8c8"/><path d="M1053.2 195.1L1059.6 206.6H1046.8Z" fill="#c8c8c8"/><path d="M1030.1 228.9L1036.5 240.4H1023.7Z" fill="#c8c8c8"/><path d="M1123.8 217.9L1130.2 229.4H1117.4Z" fill="#c8c8c8"/><path d="M1136.4 231.3L1142.8 242.8H1130.0Z" fill="#c8c8c8"/><path d="M1113.5 236.8L1119.9 248.3H1107.1Z" fill="#c8c8c8"/><path d="M1126.9 240.0L1133.3 251.5H1120.5Z" fill="#c8c8c8"/><path d="M1132.4 251.0L1138.8 262.5H1126.0Z" fill="#c8c8c8"/><path d="M1039.5 247.8L1045.9 259.3H1033.1Z" fill="#c8c8c8"/><path d="M1033.2 245.5L1039.6 257.0H1026.8Z" fill="#c8c8c8"/><path d="M1056.9 247.0L1063.3 258.5H1050.5Z" fill="#c8c8c8"/><path d="M1077.3 246.3L1083.7 257.8H1070.9Z" fill="#c8c8c8"/><path d="M1015.9 262.0L1022.3 273.5H1009.5Z" fill="#c8c8c8"/><path d="M1007.2 266.7L1013.6 278.2H1000.8Z" fill="#c8c8c8"/><path d="M997.8 286.4L1004.2 297.9H991.4Z" fill="#c8c8c8"/><path d="M1020.6 285.6L1027.0 297.1H1014.2Z" fill="#c8c8c8"/><path d="M1071.8 285.6L1078.2 297.1H1065.4Z" fill="#c8c8c8"/><path d="M1095.4 276.2L1101.8 287.7H1089.0Z" fill="#c8c8c8"/><path d="M1103.3 286.4L1109.7 297.9H1096.9Z" fill="#c8c8c8"/><path d="M1118.3 266.7L1124.7 278.2H1111.9Z" fill="#c8c8c8"/><path d="M1089.9 273.0L1096.3 284.5H1083.5Z" fill="#c8c8c8"/><path d="M1002.5 301.8L1008.9 313.3H996.1Z" fill="#c8c8c8"/><path d="M1011.2 304.9L1017.6 316.4H1004.8Z" fill="#c8c8c8"/><path d="M1049.8 299.4L1056.2 310.9H1043.4Z" fill="#c8c8c8"/><path d="M1080.5 305.7L1086.9 317.2H1074.1Z" fill="#c8c8c8"/><path d="M965.5 323.0L971.9 334.5H959.1Z" fill="#c8c8c8"/><path d="M978.1 327.0L984.5 338.5H971.7Z" fill="#c8c8c8"/><path d="M993.1 321.5L999.5 333.0H986.7Z" fill="#c8c8c8"/><path d="M989.1 343.5L995.5 355.0H982.7Z" fill="#c8c8c8"/><path d="M1044.3 323.8L1050.7 335.3H1037.9Z" fill="#c8c8c8"/><path d="M969.4 360.8L975.8 372.3H963.0Z" fill="#c8c8c8"/><path d="M983.6 402.6L990.0 414.1H977.2Z" fill="#c8c8c8"/></g>
<g class="W"><path d="M256.1 139.6L262.5 151.1H249.7Z" fill="#ffffff"/><path d="M278.9 145.1L285.3 156.6H272.5Z" fill="#ffffff"/><path d="M293.1 140.4L299.5 151.9H286.7Z" fill="#ffffff"/><path d="M315.1 140.8L321.5 152.3H308.7Z" fill="#ffffff"/><path d="M250.6 152.2L257.0 163.7H244.2Z" fill="#ffffff"/><path d="M305.7 160.8L312.1 172.3H299.3Z" fill="#ffffff"/><path d="M259.2 167.9L265.6 179.4H252.8Z" fill="#ffffff"/><path d="M240.3 182.1L246.7 193.6H233.9Z" fill="#ffffff"/><path d="M246.6 182.1L253.0 193.6H240.2Z" fill="#ffffff"/><path d="M263.9 176.6L270.3 188.1H257.5Z" fill="#ffffff"/><path d="M273.4 178.2L279.8 189.7H267.0Z" fill="#ffffff"/><path d="M288.3 179.7L294.7 191.2H281.9Z" fill="#ffffff"/><path d="M302.5 175.8L308.9 187.3H296.1Z" fill="#ffffff"/><path d="M334.0 172.6L340.4 184.1H327.6Z" fill="#ffffff"/><path d="M339.5 184.5L345.9 196.0H333.1Z" fill="#ffffff"/><path d="M320.6 184.5L327.0 196.0H314.2Z" fill="#ffffff"/><path d="M226.9 188.4L233.3 199.9H220.5Z" fill="#ffffff"/><path d="M282.8 197.0L289.2 208.5H276.4Z" fill="#ffffff"/><path d="M325.4 199.4L331.8 210.9H319.0Z" fill="#ffffff"/><path d="M236.4 212.8L242.8 224.3H230.0Z" fill="#ffffff"/><path d="M190.7 218.3L197.1 229.8H184.3Z" fill="#ffffff"/><path d="M297.0 226.2L303.4 237.7H290.6Z" fill="#ffffff"/><path d="M311.2 227.8L317.6 239.3H304.8Z" fill="#ffffff"/><path d="M343.5 219.9L349.9 231.4H337.1Z" fill="#ffffff"/><path d="M348.2 215.9L354.6 227.4H341.8Z" fill="#ffffff"/><path d="M352.9 196.3L359.3 207.8H346.5Z" fill="#ffffff"/><path d="M354.5 213.6L360.9 225.1H348.1Z" fill="#ffffff"/><path d="M176.5 245.5L182.9 257.0H170.1Z" fill="#ffffff"/><path d="M199.4 260.4L205.8 271.9H193.0Z" fill="#ffffff"/><path d="M193.9 259.6L200.3 271.1H187.5Z" fill="#ffffff"/><path d="M213.5 256.5L219.9 268.0H207.1Z" fill="#ffffff"/><path d="M218.3 262.0L224.7 273.5H211.9Z" fill="#ffffff"/><path d="M223.8 248.6L230.2 260.1H217.4Z" fill="#ffffff"/><path d="M232.4 269.9L238.8 281.4H226.0Z" fill="#ffffff"/><path d="M180.5 277.0L186.9 288.5H174.1Z" fill="#ffffff"/><path d="M180.5 281.7L186.9 293.2H174.1Z" fill="#ffffff"/><path d="M186.0 292.8L192.4 304.3H179.6Z" fill="#ffffff"/><path d="M422.7 175.8L429.1 187.3H416.3Z" fill="#ffffff"/><path d="M427.7 191.5L434.1 203.0H421.3Z" fill="#ffffff"/><path d="M445.8 191.5L452.2 203.0H439.4Z" fill="#ffffff"/><path d="M459.2 193.1L465.6 204.6H452.8Z" fill="#ffffff"/><path d="M478.1 193.9L484.5 205.4H471.7Z" fill="#ffffff"/><path d="M463.9 204.1L470.3 215.6H457.5Z" fill="#ffffff"/><path d="M381.3 199.4L387.7 210.9H374.9Z" fill="#ffffff"/><path d="M393.9 200.2L400.3 211.7H387.5Z" fill="#ffffff"/><path d="M417.5 212.0L423.9 223.5H411.1Z" fill="#ffffff"/><path d="M390.7 207.3L397.1 218.8H384.3Z" fill="#ffffff"/><path d="M441.1 212.8L447.5 224.3H434.7Z" fill="#ffffff"/><path d="M431.7 224.6L438.1 236.1H425.3Z" fill="#ffffff"/><path d="M385.2 230.9L391.6 242.4H378.8Z" fill="#ffffff"/><path d="M399.4 230.9L405.8 242.4H393.0Z" fill="#ffffff"/><path d="M408.0 234.1L414.4 245.6H401.6Z" fill="#ffffff"/><path d="M469.4 230.9L475.8 242.4H463.0Z" fill="#ffffff"/><path d="M493.1 229.3L499.5 240.8H486.7Z" fill="#ffffff"/><path d="M548.2 231.7L554.6 243.2H541.8Z" fill="#ffffff"/><path d="M506.5 240.4L512.9 251.9H500.1Z" fill="#ffffff"/><path d="M413.5 240.4L419.9 251.9H407.1Z" fill="#ffffff"/><path d="M450.6 238.8L457.0 250.3H444.2Z" fill="#ffffff"/><path d="M361.6 211.2L368.0 222.7H355.2Z" fill="#ffffff"/><path d="M369.4 246.3L375.8 257.8H363.0Z" fill="#ffffff"/><path d="M375.7 246.3L382.1 257.8H369.3Z" fill="#ffffff"/><path d="M404.9 276.2L411.3 287.7H398.5Z" fill="#ffffff"/><path d="M454.5 265.9L460.9 277.4H448.1Z" fill="#ffffff"/><path d="M472.6 265.9L479.0 277.4H466.2Z" fill="#ffffff"/><path d="M500.9 264.4L507.3 275.9H494.5Z" fill="#ffffff"/><path d="M515.1 258.1L521.5 269.6H508.7Z" fill="#ffffff"/><path d="M524.6 261.2L531.0 272.7H518.2Z" fill="#ffffff"/><path d="M528.5 251.8L534.9 263.3H522.1Z" fill="#ffffff"/><path d="M538.7 268.3L545.1 279.8H532.3Z" fill="#ffffff"/><path d="M487.6 290.4L494.0 301.9H481.2Z" fill="#ffffff"/><path d="M510.4 291.1L516.8 302.6H504.0Z" fill="#ffffff"/><path d="M515.9 291.9L522.3 303.4H509.5Z" fill="#ffffff"/><path d="M519.8 310.0L526.2 321.5H513.4Z" fill="#ffffff"/><path d="M534.0 316.3L540.4 327.8H527.6Z" fill="#ffffff"/><path d="M543.5 303.0L549.9 314.5H537.1Z" fill="#ffffff"/><path d="M551.3 295.1L557.7 306.6H544.9Z" fill="#ffffff"/><path d="M556.9 251.8L563.3 263.3H550.5Z" fill="#ffffff"/><path d="M449.8 244.7L456.2 256.2H443.4Z" fill="#ffffff"/><path d="M506.5 245.5L512.9 257.0H500.1Z" fill="#ffffff"/><path d="M557.6 295.9L564.0 307.4H551.2Z" fill="#ffffff"/><path d="M557.6 306.9L564.0 318.4H551.2Z" fill="#ffffff"/><path d="M566.3 247.0L572.7 258.5H559.9Z" fill="#ffffff"/><path d="M575.0 299.4L581.4 310.9H568.6Z" fill="#ffffff"/><path d="M607.2 297.8L613.6 309.3H600.8Z" fill="#ffffff"/><path d="M618.3 302.6L624.7 314.1H611.9Z" fill="#ffffff"/><path d="M612.0 311.2L618.4 322.7H605.6Z" fill="#ffffff"/><path d="M621.4 316.7L627.8 328.2H615.0Z" fill="#ffffff"/><path d="M562.4 303.3L568.8 314.8H556.0Z" fill="#ffffff"/><path d="M583.6 324.6L590.0 336.1H577.2Z" fill="#ffffff"/><path d="M593.9 337.2L600.3 348.7H587.5Z" fill="#ffffff"/><path d="M571.0 351.4L577.4 362.9H564.6Z" fill="#ffffff"/><path d="M580.5 356.1L586.9 367.6H574.1Z" fill="#ffffff"/><path d="M589.1 356.1L595.5 367.6H582.7Z" fill="#ffffff"/><path d="M603.3 352.2L609.7 363.7H596.9Z" fill="#ffffff"/><path d="M597.8 348.2L604.2 359.7H591.4Z" fill="#ffffff"/><path d="M635.6 335.6L642.0 347.1H629.2Z" fill="#ffffff"/><path d="M645.0 339.6L651.4 351.1H638.6Z" fill="#ffffff"/><path d="M659.2 328.5L665.6 340.0H652.8Z" fill="#ffffff"/><path d="M667.9 336.4L674.3 347.9H661.5Z" fill="#ffffff"/><path d="M622.2 345.1L628.6 356.6H615.8Z" fill="#ffffff"/><path d="M629.3 342.7L635.7 354.2H622.9Z" fill="#ffffff"/><path d="M640.3 349.8L646.7 361.3H633.9Z" fill="#ffffff"/><path d="M653.7 351.4L660.1 362.9H647.3Z" fill="#ffffff"/><path d="M663.1 357.7L669.5 369.2H656.7Z" fill="#ffffff"/><path d="M672.6 375.8L679.0 387.3H666.2Z" fill="#ffffff"/><path d="M686.0 390.0L692.4 401.5H679.6Z" fill="#ffffff"/><path d="M692.3 382.1L698.7 393.6H685.9Z" fill="#ffffff"/><path d="M682.8 404.9L689.2 416.4H676.4Z" fill="#ffffff"/><path d="M677.3 414.4L683.7 425.9H670.9Z" fill="#ffffff"/><path d="M728.5 434.8L734.9 446.3H722.1Z" fill="#ffffff"/><path d="M700.9 438.8L707.3 450.3H694.5Z" fill="#ffffff"/><path d="M648.2 356.1L654.6 367.6H641.8Z" fill="#ffffff"/><path d="M696.2 456.5L702.6 468.0H689.8Z" fill="#ffffff"/><path d="M708.8 454.9L715.2 466.4H702.4Z" fill="#ffffff"/><path d="M723.8 449.4L730.2 460.9H717.4Z" fill="#ffffff"/><path d="M715.1 467.5L721.5 479.0H708.7Z" fill="#ffffff"/><path d="M719.1 477.8L725.5 489.3H712.7Z" fill="#ffffff"/><path d="M730.1 462.4L736.5 473.9H723.7Z" fill="#ffffff"/><path d="M745.8 462.8L752.2 474.3H739.4Z" fill="#ffffff"/><path d="M752.9 469.9L759.3 481.4H746.5Z" fill="#ffffff"/><path d="M760.8 489.6L767.2 501.1H754.4Z" fill="#ffffff"/><path d="M765.5 497.4L771.9 508.9H759.1Z" fill="#ffffff"/><path d="M759.1 500.3L765.5 511.8H752.7Z" fill="#ffffff"/><path d="M768.7 510.0L775.1 521.5H762.3Z" fill="#ffffff"/><path d="M775.7 514.8L782.1 526.3H769.3Z" fill="#ffffff"/><path d="M775.7 531.6L782.1 543.1H769.3Z" fill="#ffffff"/><path d="M784.4 535.2L790.8 546.7H778.0Z" fill="#ffffff"/><path d="M793.1 533.7L799.5 545.2H786.7Z" fill="#ffffff"/><path d="M802.5 544.7L808.9 556.2H796.1Z" fill="#ffffff"/><path d="M789.1 554.1L795.5 565.6H782.7Z" fill="#ffffff"/><path d="M811.2 566.7L817.6 578.2H804.8Z" fill="#ffffff"/><path d="M843.5 578.5L849.9 590.0H837.1Z" fill="#ffffff"/><path d="M816.7 584.1L823.1 595.6H810.3Z" fill="#ffffff"/><path d="M854.5 518.3L860.9 529.8H848.1Z" fill="#ffffff"/><path d="M848.2 533.7L854.6 545.2H841.8Z" fill="#ffffff"/><path d="M857.6 529.7L864.0 541.2H851.2Z" fill="#ffffff"/><path d="M700.2 447.0L706.6 458.5H693.8Z" fill="#ffffff"/><path d="M736.5 472.7L742.9 484.2H730.1Z" fill="#ffffff"/><path d="M945.8 368.7L952.2 380.2H939.4Z" fill="#ffffff"/><path d="M942.7 385.2L949.1 396.7H936.3Z" fill="#ffffff"/><path d="M955.3 386.8L961.7 398.3H948.9Z" fill="#ffffff"/><path d="M951.3 393.1L957.7 404.6H944.9Z" fill="#ffffff"/><path d="M928.5 420.7L934.9 432.2H922.1Z" fill="#ffffff"/><path d="M931.7 438.8L938.1 450.3H925.3Z" fill="#ffffff"/><path d="M937.2 440.4L943.6 451.9H930.8Z" fill="#ffffff"/><path d="M937.2 445.5L943.6 457.0H930.8Z" fill="#ffffff"/><path d="M923.0 480.1L929.4 491.6H916.6Z" fill="#ffffff"/><path d="M913.5 487.2L919.9 498.7H907.1Z" fill="#ffffff"/><path d="M909.6 498.2L916.0 509.7H903.2Z" fill="#ffffff"/><path d="M872.6 501.4L879.0 512.9H866.2Z" fill="#ffffff"/><path d="M876.5 504.5L882.9 516.0H870.1Z" fill="#ffffff"/><path d="M919.1 513.2L925.5 524.7H912.7Z" fill="#ffffff"/><path d="M866.3 528.9L872.7 540.4H859.9Z" fill="#ffffff"/><path d="M862.4 525.8L868.8 537.3H856.0Z" fill="#ffffff"/><path d="M873.4 535.2L879.8 546.7H867.0Z" fill="#ffffff"/><path d="M886.8 538.4L893.2 549.9H880.4Z" fill="#ffffff"/><path d="M895.4 544.7L901.8 556.2H889.0Z" fill="#ffffff"/><path d="M904.1 534.5L910.5 546.0H897.7Z" fill="#ffffff"/><path d="M881.3 546.3L887.7 557.8H874.9Z" fill="#ffffff"/><path d="M872.6 557.3L879.0 568.8H866.2Z" fill="#ffffff"/><path d="M890.7 569.9L897.1 581.4H884.3Z" fill="#ffffff"/><path d="M861.6 532.9L868.0 544.4H855.2Z" fill="#ffffff"/><path d="M819.8 608.7L826.2 620.2H813.4Z" fill="#ffffff"/><path d="M825.4 611.1L831.8 622.6H819.0Z" fill="#ffffff"/><path d="M830.1 617.4L836.5 628.9H823.7Z" fill="#ffffff"/><path d="M834.8 623.7L841.2 635.2H828.4Z" fill="#ffffff"/><path d="M840.3 626.8L846.7 638.3H833.9Z" fill="#ffffff"/><path d="M1039.5 230.5L1045.9 242.0H1033.1Z" fill="#ffffff"/><path d="M1053.7 236.0L1060.1 247.5H1047.3Z" fill="#ffffff"/><path d="M1071.8 234.5L1078.2 246.0H1065.4Z" fill="#ffffff"/><path d="M1089.9 228.9L1096.3 240.4H1083.5Z" fill="#ffffff"/><path d="M1100.2 231.3L1106.6 242.8H1093.8Z" fill="#ffffff"/><path d="M1112.8 228.2L1119.2 239.7H1106.4Z" fill="#ffffff"/><path d="M1108.8 246.3L1115.2 257.8H1102.4Z" fill="#ffffff"/><path d="M1104.9 252.6L1111.3 264.1H1098.5Z" fill="#ffffff"/><path d="M1094.6 261.2L1101.0 272.7H1088.2Z" fill="#ffffff"/><path d="M1050.6 259.6L1057.0 271.1H1044.2Z" fill="#ffffff"/><path d="M1057.6 257.3L1064.0 268.8H1051.2Z" fill="#ffffff"/><path d="M1024.6 262.8L1031.0 274.3H1018.2Z" fill="#ffffff"/><path d="M1015.9 276.2L1022.3 287.7H1009.5Z" fill="#ffffff"/><path d="M1009.6 286.4L1016.0 297.9H1003.2Z" fill="#ffffff"/><path d="M1030.1 286.4L1036.5 297.9H1023.7Z" fill="#ffffff"/><path d="M1064.7 272.2L1071.1 283.7H1058.3Z" fill="#ffffff"/><path d="M1063.1 282.5L1069.5 294.0H1056.7Z" fill="#ffffff"/><path d="M1079.7 274.6L1086.1 286.1H1073.3Z" fill="#ffffff"/><path d="M1086.0 282.5L1092.4 294.0H1079.6Z" fill="#ffffff"/><path d="M993.1 308.1L999.5 319.6H986.7Z" fill="#ffffff"/><path d="M1001.7 312.8L1008.1 324.3H995.3Z" fill="#ffffff"/><path d="M1023.8 297.8L1030.2 309.3H1017.4Z" fill="#ffffff"/><path d="M1045.0 306.5L1051.4 318.0H1038.6Z" fill="#ffffff"/><path d="M1034.0 318.3L1040.4 329.8H1027.6Z" fill="#ffffff"/><path d="M1007.2 325.4L1013.6 336.9H1000.8Z" fill="#ffffff"/><path d="M988.3 329.3L994.7 340.8H981.9Z" fill="#ffffff"/><path d="M997.8 328.5L1004.2 340.0H991.4Z" fill="#ffffff"/><path d="M969.4 340.4L975.8 351.9H963.0Z" fill="#ffffff"/><path d="M978.9 364.0L985.3 375.5H972.5Z" fill="#ffffff"/><path d="M983.6 363.2L990.0 374.7H977.2Z" fill="#ffffff"/><path d="M975.0 376.6L981.4 388.1H968.6Z" fill="#ffffff"/><path d="M966.3 404.1L972.7 415.6H959.9Z" fill="#ffffff"/><path d="M1076.5 323.8L1082.9 335.3H1070.1Z" fill="#ffffff"/><path d="M748.7 487.3L755.1 498.8H742.3Z" fill="#ffffff"/><path d="M794.0 545.2L800.4 556.7H787.6Z" fill="#ffffff"/><path d="M806.6 565.4L813.0 576.9H800.2Z" fill="#ffffff"/><path d="M718.4 457.0L724.8 468.5H712.0Z" fill="#ffffff"/><path d="M708.3 460.8L714.7 472.3H701.9Z" fill="#ffffff"/></g>
<rect x="134" y="554.7" width="306.5" height="156.7" fill="#d9d9d9"/>
<circle cx="179.4" cy="573.5" r="5.9" fill="#aa0000" stroke="#111" stroke-width="1.2"/>
<circle cx="179.4" cy="612.8" r="5.9" fill="#7199d3" stroke="#111" stroke-width="1.2"/>
<path d="M179.4 645.9L185.8 658.3H173.0Z" fill="#c8c8c8" stroke="#111" stroke-width="1.5" stroke-linejoin="round"/>
<path d="M179.4 686.0L185.8 698.4H173.0Z" fill="#fff" stroke="#111" stroke-width="1.5" stroke-linejoin="round"/>
<text class="lg" x="193" y="581.8" style="letter-spacing:0.3px">H10</text>
<text class="lg" x="193" y="621.1" style="letter-spacing:0.45px">Movesense Medical</text>
<text class="lg" x="193" y="660.8" style="letter-spacing:-0.5px">Lead 2</text>
<text class="lg" x="193" y="700.9" style="letter-spacing:-0.45px">Lead V3</text>
<g stroke="#b4b4b4" stroke-width="2.2"><line x1="109.2" y1="898.4" x2="1243.8" y2="898.4"/><line x1="109.2" y1="994.0" x2="1243.8" y2="994.0"/><line x1="109.2" y1="1089.7" x2="1243.8" y2="1089.7"/><line x1="109.2" y1="1185.3" x2="1243.8" y2="1185.3"/><line x1="109.2" y1="1281.0" x2="1243.8" y2="1281.0"/><line x1="109.2" y1="1376.6" x2="1243.8" y2="1376.6"/><line x1="109.2" y1="1472.3" x2="1243.8" y2="1472.3"/><line x1="109.2" y1="1567.9" x2="1243.8" y2="1567.9"/><line x1="118.2" y1="897.4" x2="118.2" y2="1576.5"/><line x1="278.9" y1="897.4" x2="278.9" y2="1576.5"/><line x1="439.5" y1="897.4" x2="439.5" y2="1576.5"/><line x1="600.2" y1="897.4" x2="600.2" y2="1576.5"/><line x1="760.8" y1="897.4" x2="760.8" y2="1576.5"/><line x1="921.5" y1="897.4" x2="921.5" y2="1576.5"/><line x1="1082.1" y1="897.4" x2="1082.1" y2="1576.5"/><line x1="1242.8" y1="897.4" x2="1242.8" y2="1576.5"/></g>
<line x1="339.85" y1="899.0" x2="339.85" y2="1566" stroke="#767676" stroke-width="3.4" stroke-dasharray="15 12.14"/>
<line x1="977.3" y1="899.0" x2="977.3" y2="1566" stroke="#767676" stroke-width="3.4" stroke-dasharray="15 12.14"/>
<text class="yl" x="91.9" y="905.8">1,75</text>
<text class="yl" x="91.9" y="1001.4">1,50</text>
<text class="yl" x="91.9" y="1097.1">1,25</text>
<text class="yl" x="91.9" y="1192.7">1,00</text>
<text class="yl" x="91.9" y="1288.4">0,75</text>
<text class="yl" x="91.9" y="1384.0">0,50</text>
<text class="yl" x="91.9" y="1479.7">0,25</text>
<text class="yl" x="91.9" y="1575.3">0,00</text>
<text class="xl" x="118.7" y="1610.7">0:00</text>
<text class="xl" x="279.4" y="1610.7">0:02</text>
<text class="xl" x="440.0" y="1610.7">0:05</text>
<text class="xl" x="600.7" y="1610.7">0:08</text>
<text class="xl" x="761.3" y="1610.7">0:11</text>
<text class="xl" x="922.0" y="1610.7">0:14</text>
<text class="xl" x="1082.6" y="1610.7">0:17</text>
<text class="xl" x="1243.3" y="1610.7">0:20</text>
<text class="ti" x="673.5" y="1644.5">Time [h:min]</text>
<text class="ti" transform="translate(22.3,1232.1) rotate(-90)" x="0" y="0">DFA a1</text>
<text class="pl" x="11.0" y="879.1">B</text>
<g class="R"><circle cx="177.3" cy="989.4" r="5.9" fill="#aa0000"/><circle cx="200.9" cy="998.8" r="5.9" fill="#aa0000"/><circle cx="219.8" cy="997.2" r="5.9" fill="#aa0000"/><circle cx="197.0" cy="1008.3" r="5.9" fill="#aa0000"/><circle cx="243.5" cy="1007.5" r="5.9" fill="#aa0000"/><circle cx="229.3" cy="1031.9" r="5.9" fill="#aa0000"/><circle cx="182.8" cy="1045.3" r="5.9" fill="#aa0000"/><circle cx="186.0" cy="1052.4" r="5.9" fill="#aa0000"/><circle cx="207.2" cy="1031.9" r="5.9" fill="#aa0000"/><circle cx="213.5" cy="1032.7" r="5.9" fill="#aa0000"/><circle cx="173.4" cy="1059.4" r="5.9" fill="#aa0000"/><circle cx="238.7" cy="1060.2" r="5.9" fill="#aa0000"/><circle cx="252.9" cy="1051.6" r="5.9" fill="#aa0000"/><circle cx="267.1" cy="1055.5" r="5.9" fill="#aa0000"/><circle cx="247.4" cy="1070.5" r="5.9" fill="#aa0000"/><circle cx="233.2" cy="1079.9" r="5.9" fill="#aa0000"/><circle cx="293.9" cy="1059.4" r="5.9" fill="#aa0000"/><circle cx="302.5" cy="1053.1" r="5.9" fill="#aa0000"/><circle cx="320.6" cy="1050.8" r="5.9" fill="#aa0000"/><circle cx="325.4" cy="1054.7" r="5.9" fill="#aa0000"/><circle cx="349.8" cy="1037.4" r="5.9" fill="#aa0000"/><circle cx="343.5" cy="1053.1" r="5.9" fill="#aa0000"/><circle cx="359.6" cy="982.3" r="5.9" fill="#aa0000"/><circle cx="275.7" cy="1086.2" r="5.9" fill="#aa0000"/><circle cx="297.0" cy="1090.2" r="5.9" fill="#aa0000"/><circle cx="285.2" cy="1110.2" r="5.9" fill="#aa0000"/><circle cx="313.5" cy="1106.3" r="5.9" fill="#aa0000"/><circle cx="308.0" cy="1126.8" r="5.9" fill="#aa0000"/><circle cx="290.7" cy="1129.9" r="5.9" fill="#aa0000"/><circle cx="331.7" cy="1154.3" r="5.9" fill="#aa0000"/><circle cx="256.9" cy="1144.1" r="5.9" fill="#aa0000"/><circle cx="262.4" cy="1156.7" r="5.9" fill="#aa0000"/><circle cx="382.0" cy="990.2" r="5.9" fill="#aa0000"/><circle cx="415.1" cy="977.6" r="5.9" fill="#aa0000"/><circle cx="419.1" cy="998.0" r="5.9" fill="#aa0000"/><circle cx="401.3" cy="1005.1" r="5.9" fill="#aa0000"/><circle cx="410.4" cy="1013.0" r="5.9" fill="#aa0000"/><circle cx="494.2" cy="979.6" r="5.9" fill="#aa0000"/><circle cx="512.4" cy="994.9" r="5.9" fill="#aa0000"/><circle cx="508.0" cy="1000.4" r="5.9" fill="#aa0000"/><circle cx="479.7" cy="996.5" r="5.9" fill="#aa0000"/><circle cx="486.0" cy="1002.0" r="5.9" fill="#aa0000"/><circle cx="488.3" cy="1013.8" r="5.9" fill="#aa0000"/><circle cx="467.1" cy="1023.2" r="5.9" fill="#aa0000"/><circle cx="501.7" cy="1024.0" r="5.9" fill="#aa0000"/><circle cx="519.1" cy="1026.4" r="5.9" fill="#aa0000"/><circle cx="521.4" cy="1057.9" r="5.9" fill="#aa0000"/><circle cx="535.6" cy="1069.7" r="5.9" fill="#aa0000"/><circle cx="552.9" cy="1079.9" r="5.9" fill="#aa0000"/><circle cx="386.8" cy="1046.1" r="5.9" fill="#aa0000"/><circle cx="373.4" cy="1057.9" r="5.9" fill="#aa0000"/><circle cx="427.7" cy="1041.3" r="5.9" fill="#aa0000"/><circle cx="440.3" cy="1044.5" r="5.9" fill="#aa0000"/><circle cx="454.5" cy="1051.6" r="5.9" fill="#aa0000"/><circle cx="449.8" cy="1060.2" r="5.9" fill="#aa0000"/><circle cx="472.6" cy="1058.7" r="5.9" fill="#aa0000"/><circle cx="447.4" cy="1079.1" r="5.9" fill="#aa0000"/><circle cx="364.7" cy="1081.5" r="5.9" fill="#aa0000"/><circle cx="368.7" cy="1091.7" r="5.9" fill="#aa0000"/><circle cx="396.2" cy="1071.3" r="5.9" fill="#aa0000"/><circle cx="406.5" cy="1036.6" r="5.9" fill="#aa0000"/><circle cx="389.1" cy="1035.0" r="5.9" fill="#aa0000"/><circle cx="473.4" cy="1042.1" r="5.9" fill="#aa0000"/><circle cx="377.3" cy="1008.3" r="5.9" fill="#aa0000"/><circle cx="532.4" cy="1104.7" r="5.9" fill="#aa0000"/><circle cx="544.3" cy="1103.1" r="5.9" fill="#aa0000"/><circle cx="526.1" cy="1142.5" r="5.9" fill="#aa0000"/><circle cx="550.6" cy="1145.7" r="5.9" fill="#aa0000"/><circle cx="561.2" cy="1109.8" r="5.9" fill="#aa0000"/><circle cx="591.5" cy="1095.3" r="5.9" fill="#aa0000"/><circle cx="571.8" cy="1100.0" r="5.9" fill="#aa0000"/><circle cx="629.3" cy="1122.8" r="5.9" fill="#aa0000"/><circle cx="675.7" cy="1123.6" r="5.9" fill="#aa0000"/><circle cx="642.7" cy="1136.2" r="5.9" fill="#aa0000"/><circle cx="652.1" cy="1133.1" r="5.9" fill="#aa0000"/><circle cx="588.3" cy="1133.1" r="5.9" fill="#aa0000"/><circle cx="578.1" cy="1140.2" r="5.9" fill="#aa0000"/><circle cx="600.2" cy="1134.6" r="5.9" fill="#aa0000"/><circle cx="619.8" cy="1162.6" r="5.9" fill="#aa0000"/><circle cx="647.4" cy="1165.7" r="5.9" fill="#aa0000"/><circle cx="660.8" cy="1163.4" r="5.9" fill="#aa0000"/><circle cx="665.5" cy="1165.7" r="5.9" fill="#aa0000"/><circle cx="689.1" cy="1160.2" r="5.9" fill="#aa0000"/><circle cx="699.4" cy="1171.3" r="5.9" fill="#aa0000"/><circle cx="712.8" cy="1167.3" r="5.9" fill="#aa0000"/><circle cx="717.5" cy="1183.1" r="5.9" fill="#aa0000"/><circle cx="634.0" cy="1196.5" r="5.9" fill="#aa0000"/><circle cx="657.6" cy="1197.2" r="5.9" fill="#aa0000"/><circle cx="670.2" cy="1214.6" r="5.9" fill="#aa0000"/><circle cx="684.4" cy="1212.2" r="5.9" fill="#aa0000"/><circle cx="679.7" cy="1205.9" r="5.9" fill="#aa0000"/><circle cx="730.9" cy="1217.7" r="5.9" fill="#aa0000"/><circle cx="739.5" cy="1225.6" r="5.9" fill="#aa0000"/><circle cx="701.7" cy="1230.3" r="5.9" fill="#aa0000"/><circle cx="707.2" cy="1243.7" r="5.9" fill="#aa0000"/><circle cx="726.9" cy="1250.8" r="5.9" fill="#aa0000"/><circle cx="735.6" cy="1259.4" r="5.9" fill="#aa0000"/><circle cx="749.0" cy="1241.3" r="5.9" fill="#aa0000"/><circle cx="756.9" cy="1242.1" r="5.9" fill="#aa0000"/><circle cx="753.7" cy="1249.2" r="5.9" fill="#aa0000"/><circle cx="624.5" cy="1172.0" r="5.9" fill="#aa0000"/><circle cx="761.6" cy="1242.1" r="5.9" fill="#aa0000"/><circle cx="777.3" cy="1252.4" r="5.9" fill="#aa0000"/><circle cx="774.2" cy="1262.6" r="5.9" fill="#aa0000"/><circle cx="768.7" cy="1286.2" r="5.9" fill="#aa0000"/><circle cx="797.8" cy="1286.2" r="5.9" fill="#aa0000"/><circle cx="786.0" cy="1277.6" r="5.9" fill="#aa0000"/><circle cx="809.6" cy="1290.2" r="5.9" fill="#aa0000"/><circle cx="815.1" cy="1296.5" r="5.9" fill="#aa0000"/><circle cx="800.2" cy="1297.2" r="5.9" fill="#aa0000"/><circle cx="885.2" cy="1280.7" r="5.9" fill="#aa0000"/><circle cx="870.2" cy="1290.9" r="5.9" fill="#aa0000"/><circle cx="879.7" cy="1293.3" r="5.9" fill="#aa0000"/><circle cx="893.1" cy="1293.3" r="5.9" fill="#aa0000"/><circle cx="898.6" cy="1293.3" r="5.9" fill="#aa0000"/><circle cx="926.1" cy="1262.6" r="5.9" fill="#aa0000"/><circle cx="949.0" cy="1266.5" r="5.9" fill="#aa0000"/><circle cx="945.0" cy="1272.0" r="5.9" fill="#aa0000"/><circle cx="939.5" cy="1277.6" r="5.9" fill="#aa0000"/><circle cx="930.9" cy="1283.1" r="5.9" fill="#aa0000"/><circle cx="922.2" cy="1298.7" r="5.9" fill="#aa0000"/><circle cx="915.9" cy="1297.2" r="5.9" fill="#aa0000"/><circle cx="959.2" cy="1284.6" r="5.9" fill="#aa0000"/><circle cx="874.2" cy="1294.9" r="5.9" fill="#aa0000"/><circle cx="782.8" cy="1310.2" r="5.9" fill="#aa0000"/><circle cx="823.0" cy="1306.3" r="5.9" fill="#aa0000"/><circle cx="843.5" cy="1323.6" r="5.9" fill="#aa0000"/><circle cx="829.3" cy="1333.9" r="5.9" fill="#aa0000"/><circle cx="833.2" cy="1348.0" r="5.9" fill="#aa0000"/><circle cx="852.1" cy="1349.6" r="5.9" fill="#aa0000"/><circle cx="864.7" cy="1331.5" r="5.9" fill="#aa0000"/><circle cx="889.1" cy="1311.0" r="5.9" fill="#aa0000"/><circle cx="901.7" cy="1307.1" r="5.9" fill="#aa0000"/><circle cx="912.0" cy="1306.3" r="5.9" fill="#aa0000"/><circle cx="917.5" cy="1301.6" r="5.9" fill="#aa0000"/><circle cx="840.3" cy="1317.3" r="5.9" fill="#aa0000"/><circle cx="805.7" cy="1305.5" r="5.9" fill="#aa0000"/><circle cx="963.9" cy="1284.6" r="5.9" fill="#aa0000"/><circle cx="972.6" cy="1318.5" r="5.9" fill="#aa0000"/><circle cx="967.9" cy="1322.4" r="5.9" fill="#aa0000"/><circle cx="982.0" cy="1331.1" r="5.9" fill="#aa0000"/><circle cx="977.3" cy="1339.0" r="5.9" fill="#aa0000"/><circle cx="987.6" cy="1341.3" r="5.9" fill="#aa0000"/><circle cx="991.5" cy="1319.3" r="5.9" fill="#aa0000"/><circle cx="997.0" cy="1320.1" r="5.9" fill="#aa0000"/><circle cx="1003.3" cy="1318.5" r="5.9" fill="#aa0000"/><circle cx="1020.6" cy="1312.2" r="5.9" fill="#aa0000"/><circle cx="1012.0" cy="1338.2" r="5.9" fill="#aa0000"/><circle cx="1038.0" cy="1259.4" r="5.9" fill="#aa0000"/><circle cx="1027.7" cy="1267.3" r="5.9" fill="#aa0000"/><circle cx="1023.8" cy="1278.3" r="5.9" fill="#aa0000"/><circle cx="1047.4" cy="1267.3" r="5.9" fill="#aa0000"/><circle cx="1054.5" cy="1256.3" r="5.9" fill="#aa0000"/><circle cx="1097.7" cy="1133.5" r="5.9" fill="#aa0000"/><circle cx="1110.3" cy="1142.9" r="5.9" fill="#aa0000"/><circle cx="1115.8" cy="1148.4" r="5.9" fill="#aa0000"/><circle cx="1119.8" cy="1152.4" r="5.9" fill="#aa0000"/><circle cx="1135.5" cy="1154.7" r="5.9" fill="#aa0000"/><circle cx="1141.0" cy="1158.7" r="5.9" fill="#aa0000"/><circle cx="1144.2" cy="1128.0" r="5.9" fill="#aa0000"/><circle cx="1149.7" cy="1128.7" r="5.9" fill="#aa0000"/><circle cx="1152.8" cy="1116.9" r="5.9" fill="#aa0000"/><circle cx="1159.1" cy="1141.3" r="5.9" fill="#aa0000"/><circle cx="1164.6" cy="1144.5" r="5.9" fill="#aa0000"/><circle cx="1170.9" cy="1149.2" r="5.9" fill="#aa0000"/><circle cx="1175.7" cy="1124.0" r="5.9" fill="#aa0000"/><circle cx="1182.0" cy="1125.6" r="5.9" fill="#aa0000"/><circle cx="1186.7" cy="1155.5" r="5.9" fill="#aa0000"/><circle cx="1198.5" cy="1161.0" r="5.9" fill="#aa0000"/><circle cx="1205.6" cy="1164.2" r="5.9" fill="#aa0000"/><circle cx="1215.0" cy="1149.2" r="5.9" fill="#aa0000"/><circle cx="1211.1" cy="1127.2" r="5.9" fill="#aa0000"/><circle cx="1167.8" cy="1162.6" r="5.9" fill="#aa0000"/><circle cx="1080.4" cy="1153.9" r="5.9" fill="#aa0000"/><circle cx="1086.7" cy="1167.3" r="5.9" fill="#aa0000"/><circle cx="1093.8" cy="1167.3" r="5.9" fill="#aa0000"/><circle cx="1102.4" cy="1165.0" r="5.9" fill="#aa0000"/><circle cx="1107.2" cy="1161.8" r="5.9" fill="#aa0000"/><circle cx="1083.5" cy="1172.8" r="5.9" fill="#aa0000"/><circle cx="1059.9" cy="1179.1" r="5.9" fill="#aa0000"/><circle cx="1065.4" cy="1183.9" r="5.9" fill="#aa0000"/><circle cx="1126.1" cy="1183.9" r="5.9" fill="#aa0000"/><circle cx="1130.0" cy="1192.5" r="5.9" fill="#aa0000"/><circle cx="1191.4" cy="1181.5" r="5.9" fill="#aa0000"/><circle cx="1073.4" cy="1212.2" r="5.9" fill="#aa0000"/><circle cx="1068.7" cy="1212.2" r="5.9" fill="#aa0000"/></g>
<g class="B"><circle cx="186.8" cy="987.0" r="5.9" fill="#7199d3"/><circle cx="177.3" cy="997.2" r="5.9" fill="#7199d3"/><circle cx="182.8" cy="1005.9" r="5.9" fill="#7199d3"/><circle cx="173.4" cy="1014.6" r="5.9" fill="#7199d3"/><circle cx="209.6" cy="1011.4" r="5.9" fill="#7199d3"/><circle cx="229.3" cy="1010.6" r="5.9" fill="#7199d3"/><circle cx="205.7" cy="1022.4" r="5.9" fill="#7199d3"/><circle cx="253.7" cy="1022.4" r="5.9" fill="#7199d3"/><circle cx="234.0" cy="1040.6" r="5.9" fill="#7199d3"/><circle cx="219.8" cy="1044.5" r="5.9" fill="#7199d3"/><circle cx="200.2" cy="1043.7" r="5.9" fill="#7199d3"/><circle cx="197.8" cy="1027.2" r="5.9" fill="#7199d3"/><circle cx="190.7" cy="1059.4" r="5.9" fill="#7199d3"/><circle cx="215.1" cy="1058.7" r="5.9" fill="#7199d3"/><circle cx="293.9" cy="1046.9" r="5.9" fill="#7199d3"/><circle cx="278.9" cy="1060.2" r="5.9" fill="#7199d3"/><circle cx="285.2" cy="1065.0" r="5.9" fill="#7199d3"/><circle cx="274.2" cy="1064.2" r="5.9" fill="#7199d3"/><circle cx="302.5" cy="1058.7" r="5.9" fill="#7199d3"/><circle cx="326.1" cy="1027.2" r="5.9" fill="#7199d3"/><circle cx="243.5" cy="1077.6" r="5.9" fill="#7199d3"/><circle cx="223.8" cy="1083.1" r="5.9" fill="#7199d3"/><circle cx="331.7" cy="1073.6" r="5.9" fill="#7199d3"/><circle cx="337.2" cy="1077.6" r="5.9" fill="#7199d3"/><circle cx="343.5" cy="1063.4" r="5.9" fill="#7199d3"/><circle cx="356.1" cy="1049.2" r="5.9" fill="#7199d3"/><circle cx="354.5" cy="1078.3" r="5.9" fill="#7199d3"/><circle cx="270.2" cy="1090.2" r="5.9" fill="#7199d3"/><circle cx="351.3" cy="1090.2" r="5.9" fill="#7199d3"/><circle cx="256.9" cy="1097.2" r="5.9" fill="#7199d3"/><circle cx="247.4" cy="1108.7" r="5.9" fill="#7199d3"/><circle cx="260.8" cy="1102.4" r="5.9" fill="#7199d3"/><circle cx="299.4" cy="1111.8" r="5.9" fill="#7199d3"/><circle cx="308.8" cy="1103.9" r="5.9" fill="#7199d3"/><circle cx="289.1" cy="1137.0" r="5.9" fill="#7199d3"/><circle cx="317.2" cy="1154.3" r="5.9" fill="#7199d3"/><circle cx="235.6" cy="1126.8" r="5.9" fill="#7199d3"/><circle cx="264.7" cy="1114.2" r="5.9" fill="#7199d3"/><circle cx="465.8" cy="965.4" r="5.9" fill="#7199d3"/><circle cx="438.7" cy="975.5" r="5.9" fill="#7199d3"/><circle cx="456.9" cy="982.3" r="5.9" fill="#7199d3"/><circle cx="419.5" cy="983.9" r="5.9" fill="#7199d3"/><circle cx="428.5" cy="994.1" r="5.9" fill="#7199d3"/><circle cx="447.7" cy="1006.7" r="5.9" fill="#7199d3"/><circle cx="392.3" cy="1015.4" r="5.9" fill="#7199d3"/><circle cx="381.3" cy="1010.6" r="5.9" fill="#7199d3"/><circle cx="425.4" cy="1020.1" r="5.9" fill="#7199d3"/><circle cx="401.7" cy="1031.1" r="5.9" fill="#7199d3"/><circle cx="442.7" cy="1032.7" r="5.9" fill="#7199d3"/><circle cx="368.7" cy="1030.3" r="5.9" fill="#7199d3"/><circle cx="361.6" cy="1049.2" r="5.9" fill="#7199d3"/><circle cx="434.0" cy="1044.5" r="5.9" fill="#7199d3"/><circle cx="414.3" cy="1028.7" r="5.9" fill="#7199d3"/><circle cx="470.2" cy="1013.8" r="5.9" fill="#7199d3"/><circle cx="479.7" cy="1004.3" r="5.9" fill="#7199d3"/><circle cx="493.9" cy="1020.9" r="5.9" fill="#7199d3"/><circle cx="502.5" cy="1018.5" r="5.9" fill="#7199d3"/><circle cx="508.8" cy="1012.2" r="5.9" fill="#7199d3"/><circle cx="521.4" cy="1016.9" r="5.9" fill="#7199d3"/><circle cx="512.0" cy="1028.7" r="5.9" fill="#7199d3"/><circle cx="462.4" cy="1035.8" r="5.9" fill="#7199d3"/><circle cx="451.3" cy="1050.0" r="5.9" fill="#7199d3"/><circle cx="475.7" cy="1065.0" r="5.9" fill="#7199d3"/><circle cx="489.1" cy="1078.3" r="5.9" fill="#7199d3"/><circle cx="499.4" cy="1071.3" r="5.9" fill="#7199d3"/><circle cx="526.9" cy="1068.9" r="5.9" fill="#7199d3"/><circle cx="545.0" cy="1069.7" r="5.9" fill="#7199d3"/><circle cx="533.2" cy="1079.9" r="5.9" fill="#7199d3"/><circle cx="559.6" cy="1081.7" r="5.9" fill="#7199d3"/><circle cx="387.6" cy="1061.0" r="5.9" fill="#7199d3"/><circle cx="535.6" cy="1094.1" r="5.9" fill="#7199d3"/><circle cx="517.5" cy="1118.9" r="5.9" fill="#7199d3"/><circle cx="549.0" cy="1126.8" r="5.9" fill="#7199d3"/><circle cx="541.1" cy="1100.0" r="5.9" fill="#7199d3"/><circle cx="573.4" cy="1074.8" r="5.9" fill="#7199d3"/><circle cx="591.5" cy="1085.0" r="5.9" fill="#7199d3"/><circle cx="605.7" cy="1080.3" r="5.9" fill="#7199d3"/><circle cx="564.7" cy="1103.1" r="5.9" fill="#7199d3"/><circle cx="577.3" cy="1099.2" r="5.9" fill="#7199d3"/><circle cx="581.3" cy="1104.7" r="5.9" fill="#7199d3"/><circle cx="634.0" cy="1109.4" r="5.9" fill="#7199d3"/><circle cx="646.6" cy="1111.0" r="5.9" fill="#7199d3"/><circle cx="641.9" cy="1117.3" r="5.9" fill="#7199d3"/><circle cx="619.8" cy="1122.8" r="5.9" fill="#7199d3"/><circle cx="656.9" cy="1122.8" r="5.9" fill="#7199d3"/><circle cx="666.3" cy="1129.1" r="5.9" fill="#7199d3"/><circle cx="684.4" cy="1129.1" r="5.9" fill="#7199d3"/><circle cx="624.6" cy="1139.4" r="5.9" fill="#7199d3"/><circle cx="596.2" cy="1115.0" r="5.9" fill="#7199d3"/><circle cx="586.0" cy="1118.1" r="5.9" fill="#7199d3"/><circle cx="601.7" cy="1138.6" r="5.9" fill="#7199d3"/><circle cx="652.1" cy="1148.8" r="5.9" fill="#7199d3"/><circle cx="680.5" cy="1148.8" r="5.9" fill="#7199d3"/><circle cx="610.4" cy="1158.7" r="5.9" fill="#7199d3"/><circle cx="638.0" cy="1161.0" r="5.9" fill="#7199d3"/><circle cx="670.2" cy="1155.5" r="5.9" fill="#7199d3"/><circle cx="614.3" cy="1175.2" r="5.9" fill="#7199d3"/><circle cx="660.8" cy="1179.1" r="5.9" fill="#7199d3"/><circle cx="693.1" cy="1167.3" r="5.9" fill="#7199d3"/><circle cx="707.2" cy="1182.3" r="5.9" fill="#7199d3"/><circle cx="722.2" cy="1191.7" r="5.9" fill="#7199d3"/><circle cx="703.3" cy="1192.5" r="5.9" fill="#7199d3"/><circle cx="675.7" cy="1195.7" r="5.9" fill="#7199d3"/><circle cx="688.3" cy="1193.3" r="5.9" fill="#7199d3"/><circle cx="698.6" cy="1214.6" r="5.9" fill="#7199d3"/><circle cx="726.9" cy="1209.8" r="5.9" fill="#7199d3"/><circle cx="745.0" cy="1210.6" r="5.9" fill="#7199d3"/><circle cx="750.6" cy="1177.6" r="5.9" fill="#7199d3"/><circle cx="730.1" cy="1228.7" r="5.9" fill="#7199d3"/><circle cx="739.5" cy="1230.3" r="5.9" fill="#7199d3"/><circle cx="734.8" cy="1235.0" r="5.9" fill="#7199d3"/><circle cx="712.8" cy="1230.3" r="5.9" fill="#7199d3"/><circle cx="716.7" cy="1246.1" r="5.9" fill="#7199d3"/><circle cx="756.9" cy="1285.4" r="5.9" fill="#7199d3"/><circle cx="757.6" cy="1272.8" r="5.9" fill="#7199d3"/><circle cx="755.3" cy="1260.2" r="5.9" fill="#7199d3"/><circle cx="628.5" cy="1153.9" r="5.9" fill="#7199d3"/><circle cx="768.7" cy="1265.0" r="5.9" fill="#7199d3"/><circle cx="782.8" cy="1266.5" r="5.9" fill="#7199d3"/><circle cx="763.1" cy="1276.0" r="5.9" fill="#7199d3"/><circle cx="776.5" cy="1273.6" r="5.9" fill="#7199d3"/><circle cx="786.0" cy="1274.4" r="5.9" fill="#7199d3"/><circle cx="796.2" cy="1277.6" r="5.9" fill="#7199d3"/><circle cx="800.9" cy="1271.3" r="5.9" fill="#7199d3"/><circle cx="791.5" cy="1290.2" r="5.9" fill="#7199d3"/><circle cx="761.6" cy="1285.4" r="5.9" fill="#7199d3"/><circle cx="879.7" cy="1283.1" r="5.9" fill="#7199d3"/><circle cx="908.0" cy="1290.9" r="5.9" fill="#7199d3"/><circle cx="934.8" cy="1292.5" r="5.9" fill="#7199d3"/><circle cx="940.3" cy="1294.1" r="5.9" fill="#7199d3"/><circle cx="954.5" cy="1294.1" r="5.9" fill="#7199d3"/><circle cx="829.3" cy="1297.2" r="5.9" fill="#7199d3"/><circle cx="838.7" cy="1298.8" r="5.9" fill="#7199d3"/><circle cx="805.7" cy="1298.8" r="5.9" fill="#7199d3"/><circle cx="771.8" cy="1274.4" r="5.9" fill="#7199d3"/><circle cx="815.1" cy="1304.7" r="5.9" fill="#7199d3"/><circle cx="809.6" cy="1320.5" r="5.9" fill="#7199d3"/><circle cx="819.8" cy="1314.2" r="5.9" fill="#7199d3"/><circle cx="833.2" cy="1315.7" r="5.9" fill="#7199d3"/><circle cx="823.8" cy="1329.1" r="5.9" fill="#7199d3"/><circle cx="844.2" cy="1338.6" r="5.9" fill="#7199d3"/><circle cx="852.1" cy="1333.1" r="5.9" fill="#7199d3"/><circle cx="856.1" cy="1338.6" r="5.9" fill="#7199d3"/><circle cx="865.5" cy="1341.7" r="5.9" fill="#7199d3"/><circle cx="860.8" cy="1341.7" r="5.9" fill="#7199d3"/><circle cx="875.7" cy="1310.2" r="5.9" fill="#7199d3"/><circle cx="870.2" cy="1320.5" r="5.9" fill="#7199d3"/><circle cx="883.6" cy="1322.0" r="5.9" fill="#7199d3"/><circle cx="889.1" cy="1318.9" r="5.9" fill="#7199d3"/><circle cx="893.9" cy="1330.7" r="5.9" fill="#7199d3"/><circle cx="899.4" cy="1345.7" r="5.9" fill="#7199d3"/><circle cx="902.5" cy="1313.4" r="5.9" fill="#7199d3"/><circle cx="911.2" cy="1323.6" r="5.9" fill="#7199d3"/><circle cx="917.5" cy="1322.0" r="5.9" fill="#7199d3"/><circle cx="922.2" cy="1327.6" r="5.9" fill="#7199d3"/><circle cx="930.9" cy="1329.1" r="5.9" fill="#7199d3"/><circle cx="926.1" cy="1341.7" r="5.9" fill="#7199d3"/><circle cx="945.8" cy="1321.3" r="5.9" fill="#7199d3"/><circle cx="949.8" cy="1328.3" r="5.9" fill="#7199d3"/><circle cx="956.9" cy="1303.1" r="5.9" fill="#7199d3"/><circle cx="968.7" cy="1300.4" r="5.9" fill="#7199d3"/><circle cx="963.9" cy="1307.5" r="5.9" fill="#7199d3"/><circle cx="960.8" cy="1297.2" r="5.9" fill="#7199d3"/><circle cx="1019.1" cy="1297.2" r="5.9" fill="#7199d3"/><circle cx="1024.6" cy="1297.2" r="5.9" fill="#7199d3"/><circle cx="1010.4" cy="1309.8" r="5.9" fill="#7199d3"/><circle cx="1015.9" cy="1316.1" r="5.9" fill="#7199d3"/><circle cx="995.4" cy="1333.5" r="5.9" fill="#7199d3"/><circle cx="1001.7" cy="1331.9" r="5.9" fill="#7199d3"/><circle cx="1005.7" cy="1337.4" r="5.9" fill="#7199d3"/><circle cx="972.6" cy="1347.6" r="5.9" fill="#7199d3"/><circle cx="979.3" cy="1350.8" r="5.9" fill="#7199d3"/><circle cx="986.8" cy="1345.3" r="5.9" fill="#7199d3"/><circle cx="992.3" cy="1361.0" r="5.9" fill="#7199d3"/><circle cx="1032.4" cy="1271.3" r="5.9" fill="#7199d3"/><circle cx="1027.7" cy="1282.3" r="5.9" fill="#7199d3"/><circle cx="1042.7" cy="1284.6" r="5.9" fill="#7199d3"/><circle cx="1048.2" cy="1253.1" r="5.9" fill="#7199d3"/><circle cx="1107.2" cy="1073.6" r="5.9" fill="#7199d3"/><circle cx="1141.0" cy="1087.0" r="5.9" fill="#7199d3"/><circle cx="1135.5" cy="1094.9" r="5.9" fill="#7199d3"/><circle cx="1129.2" cy="1097.2" r="5.9" fill="#7199d3"/><circle cx="1125.3" cy="1100.4" r="5.9" fill="#7199d3"/><circle cx="1117.4" cy="1105.9" r="5.9" fill="#7199d3"/><circle cx="1103.2" cy="1112.2" r="5.9" fill="#7199d3"/><circle cx="1111.9" cy="1117.7" r="5.9" fill="#7199d3"/><circle cx="1093.8" cy="1099.6" r="5.9" fill="#7199d3"/><circle cx="1144.2" cy="1104.3" r="5.9" fill="#7199d3"/><circle cx="1153.6" cy="1102.0" r="5.9" fill="#7199d3"/><circle cx="1163.9" cy="1101.2" r="5.9" fill="#7199d3"/><circle cx="1173.3" cy="1093.3" r="5.9" fill="#7199d3"/><circle cx="1158.3" cy="1113.8" r="5.9" fill="#7199d3"/><circle cx="1167.8" cy="1119.3" r="5.9" fill="#7199d3"/><circle cx="1187.5" cy="1132.7" r="5.9" fill="#7199d3"/><circle cx="1181.2" cy="1143.7" r="5.9" fill="#7199d3"/><circle cx="1191.4" cy="1142.1" r="5.9" fill="#7199d3"/><circle cx="1195.4" cy="1146.9" r="5.9" fill="#7199d3"/><circle cx="1177.2" cy="1151.6" r="5.9" fill="#7199d3"/><circle cx="1201.7" cy="1153.1" r="5.9" fill="#7199d3"/><circle cx="1205.6" cy="1146.1" r="5.9" fill="#7199d3"/><circle cx="1215.0" cy="1120.1" r="5.9" fill="#7199d3"/><circle cx="1211.1" cy="1135.0" r="5.9" fill="#7199d3"/><circle cx="1122.9" cy="1135.8" r="5.9" fill="#7199d3"/><circle cx="1149.7" cy="1144.5" r="5.9" fill="#7199d3"/><circle cx="1080.4" cy="1120.1" r="5.9" fill="#7199d3"/><circle cx="1074.9" cy="1133.5" r="5.9" fill="#7199d3"/><circle cx="1085.1" cy="1134.3" r="5.9" fill="#7199d3"/><circle cx="1089.1" cy="1139.0" r="5.9" fill="#7199d3"/><circle cx="1097.7" cy="1135.8" r="5.9" fill="#7199d3"/><circle cx="1070.9" cy="1162.6" r="5.9" fill="#7199d3"/><circle cx="1065.4" cy="1172.0" r="5.9" fill="#7199d3"/><circle cx="1061.5" cy="1194.1" r="5.9" fill="#7199d3"/><circle cx="1051.3" cy="1199.6" r="5.9" fill="#7199d3"/><circle cx="1051.3" cy="1204.3" r="5.9" fill="#7199d3"/><circle cx="1056.9" cy="1206.7" r="5.9" fill="#7199d3"/></g>
<g class="G"><path d="M183.6 1005.3L190.0 1016.8H177.2Z" fill="#c8c8c8"/><path d="M188.3 1014.8L194.7 1026.3H181.9Z" fill="#c8c8c8"/><path d="M193.1 1018.7L199.5 1030.2H186.7Z" fill="#c8c8c8"/><path d="M215.9 1018.7L222.3 1030.2H209.5Z" fill="#c8c8c8"/><path d="M201.7 1029.7L208.1 1041.2H195.3Z" fill="#c8c8c8"/><path d="M224.6 1031.3L231.0 1042.8H218.2Z" fill="#c8c8c8"/><path d="M210.4 1044.7L216.8 1056.2H204.0Z" fill="#c8c8c8"/><path d="M234.0 1051.8L240.4 1063.3H227.6Z" fill="#c8c8c8"/><path d="M252.9 1051.8L259.3 1063.3H246.5Z" fill="#c8c8c8"/><path d="M197.8 1060.4L204.2 1071.9H191.4Z" fill="#c8c8c8"/><path d="M220.6 1064.4L227.0 1075.9H214.2Z" fill="#c8c8c8"/><path d="M280.5 1068.3L286.9 1079.8H274.1Z" fill="#c8c8c8"/><path d="M318.3 1032.9L324.7 1044.4H311.9Z" fill="#c8c8c8"/><path d="M341.1 1017.1L347.5 1028.6H334.7Z" fill="#c8c8c8"/><path d="M338.0 1038.4L344.4 1049.9H331.6Z" fill="#c8c8c8"/><path d="M308.8 1056.5L315.2 1068.0H302.4Z" fill="#c8c8c8"/><path d="M350.6 1047.8L357.0 1059.3H344.2Z" fill="#c8c8c8"/><path d="M346.6 1073.8L353.0 1085.3H340.2Z" fill="#c8c8c8"/><path d="M178.1 1077.8L184.5 1089.3H171.7Z" fill="#c8c8c8"/><path d="M290.7 1085.6L297.1 1097.1H284.3Z" fill="#c8c8c8"/><path d="M298.6 1085.6L305.0 1097.1H292.2Z" fill="#c8c8c8"/><path d="M326.9 1079.3L333.3 1090.8H320.5Z" fill="#c8c8c8"/><path d="M303.3 1065.2L309.7 1076.7H296.9Z" fill="#c8c8c8"/><path d="M243.5 1006.9L249.9 1018.4H237.1Z" fill="#c8c8c8"/><path d="M261.6 1103.3L268.0 1114.8H255.2Z" fill="#c8c8c8"/><path d="M238.7 1117.5L245.1 1129.0H232.3Z" fill="#c8c8c8"/><path d="M256.9 1133.3L263.3 1144.8H250.5Z" fill="#c8c8c8"/><path d="M267.1 1136.4L273.5 1147.9H260.7Z" fill="#c8c8c8"/><path d="M294.6 1134.1L301.0 1145.6H288.2Z" fill="#c8c8c8"/><path d="M364.7 985.6L371.1 997.1H358.3Z" fill="#c8c8c8"/><path d="M382.0 1008.5L388.4 1020.0H375.6Z" fill="#c8c8c8"/><path d="M372.6 1009.3L379.0 1020.8H366.2Z" fill="#c8c8c8"/><path d="M393.1 1018.7L399.5 1030.2H386.7Z" fill="#c8c8c8"/><path d="M369.4 1034.5L375.8 1046.0H363.0Z" fill="#c8c8c8"/><path d="M419.8 1016.3L426.2 1027.8H413.4Z" fill="#c8c8c8"/><path d="M429.3 1024.2L435.7 1035.7H422.9Z" fill="#c8c8c8"/><path d="M396.2 1043.9L402.6 1055.4H389.8Z" fill="#c8c8c8"/><path d="M405.7 1043.9L412.1 1055.4H399.3Z" fill="#c8c8c8"/><path d="M410.4 1033.7L416.8 1045.2H404.0Z" fill="#c8c8c8"/><path d="M425.4 1054.1L431.8 1065.6H419.0Z" fill="#c8c8c8"/><path d="M387.6 1059.6L394.0 1071.1H381.2Z" fill="#c8c8c8"/><path d="M461.6 1021.1L468.0 1032.6H455.2Z" fill="#c8c8c8"/><path d="M475.0 1006.9L481.4 1018.4H468.6Z" fill="#c8c8c8"/><path d="M481.3 1010.0L487.7 1021.5H474.9Z" fill="#c8c8c8"/><path d="M498.6 1003.0L505.0 1014.5H492.2Z" fill="#c8c8c8"/><path d="M493.9 1028.9L500.3 1040.4H487.5Z" fill="#c8c8c8"/><path d="M452.1 1054.9L458.5 1066.4H445.7Z" fill="#c8c8c8"/><path d="M466.3 1058.9L472.7 1070.4H459.9Z" fill="#c8c8c8"/><path d="M448.2 1066.7L454.6 1078.2H441.8Z" fill="#c8c8c8"/><path d="M457.6 1065.9L464.0 1077.4H451.2Z" fill="#c8c8c8"/><path d="M503.3 1049.4L509.7 1060.9H496.9Z" fill="#c8c8c8"/><path d="M526.9 1076.2L533.3 1087.7H520.5Z" fill="#c8c8c8"/><path d="M545.0 1082.5L551.4 1094.0H538.6Z" fill="#c8c8c8"/><path d="M415.9 1024.2L422.3 1035.7H409.5Z" fill="#c8c8c8"/><path d="M522.2 1094.7L528.6 1106.2H515.8Z" fill="#c8c8c8"/><path d="M555.3 1096.3L561.7 1107.8H548.9Z" fill="#c8c8c8"/><path d="M439.5 1115.9L445.9 1127.4H433.1Z" fill="#c8c8c8"/><path d="M536.4 1105.7L542.8 1117.2H530.0Z" fill="#c8c8c8"/><path d="M541.1 1111.2L547.5 1122.7H534.7Z" fill="#c8c8c8"/><path d="M556.9 1129.3L563.3 1140.8H550.5Z" fill="#c8c8c8"/><path d="M573.4 1083.7L579.8 1095.2H567.0Z" fill="#c8c8c8"/><path d="M588.3 1097.0L594.7 1108.5H581.9Z" fill="#c8c8c8"/><path d="M579.7 1109.6L586.1 1121.1H573.3Z" fill="#c8c8c8"/><path d="M564.7 1113.6L571.1 1125.1H558.3Z" fill="#c8c8c8"/><path d="M591.5 1113.6L597.9 1125.1H585.1Z" fill="#c8c8c8"/><path d="M601.7 1113.6L608.1 1125.1H595.3Z" fill="#c8c8c8"/><path d="M582.8 1123.8L589.2 1135.3H576.4Z" fill="#c8c8c8"/><path d="M568.7 1127.8L575.1 1139.3H562.3Z" fill="#c8c8c8"/><path d="M597.0 1130.9L603.4 1142.4H590.6Z" fill="#c8c8c8"/><path d="M643.5 1119.9L649.9 1131.4H637.1Z" fill="#c8c8c8"/><path d="M667.1 1128.5L673.5 1140.0H660.7Z" fill="#c8c8c8"/><path d="M619.8 1137.2L626.2 1148.7H613.4Z" fill="#c8c8c8"/><path d="M634.8 1137.2L641.2 1148.7H628.4Z" fill="#c8c8c8"/><path d="M611.2 1162.0L617.6 1173.5H604.8Z" fill="#c8c8c8"/><path d="M629.3 1158.9L635.7 1170.4H622.9Z" fill="#c8c8c8"/><path d="M624.6 1168.3L631.0 1179.8H618.2Z" fill="#c8c8c8"/><path d="M638.7 1166.7L645.1 1178.2H632.3Z" fill="#c8c8c8"/><path d="M657.6 1168.3L664.0 1179.8H651.2Z" fill="#c8c8c8"/><path d="M671.0 1166.7L677.4 1178.2H664.6Z" fill="#c8c8c8"/><path d="M708.0 1157.3L714.4 1168.8H701.6Z" fill="#c8c8c8"/><path d="M694.6 1177.0L701.0 1188.5H688.2Z" fill="#c8c8c8"/><path d="M652.9 1181.7L659.3 1193.2H646.5Z" fill="#c8c8c8"/><path d="M647.4 1189.6L653.8 1201.1H641.0Z" fill="#c8c8c8"/><path d="M690.7 1188.0L697.1 1199.5H684.3Z" fill="#c8c8c8"/><path d="M675.7 1197.4L682.1 1208.9H669.3Z" fill="#c8c8c8"/><path d="M661.6 1200.6L668.0 1212.1H655.2Z" fill="#c8c8c8"/><path d="M681.3 1225.0L687.7 1236.5H674.9Z" fill="#c8c8c8"/><path d="M704.1 1225.8L710.5 1237.3H697.7Z" fill="#c8c8c8"/><path d="M722.2 1225.8L728.6 1237.3H715.8Z" fill="#c8c8c8"/><path d="M715.9 1232.1L722.3 1243.6H709.5Z" fill="#c8c8c8"/><path d="M698.6 1240.0L705.0 1251.5H692.2Z" fill="#c8c8c8"/><path d="M686.0 1237.6L692.4 1249.1H679.6Z" fill="#c8c8c8"/><path d="M740.3 1246.3L746.7 1257.8H733.9Z" fill="#c8c8c8"/><path d="M727.7 1256.5L734.1 1268.0H721.3Z" fill="#c8c8c8"/><path d="M750.6 1262.0L757.0 1273.5H744.2Z" fill="#c8c8c8"/><path d="M754.5 1251.0L760.9 1262.5H748.1Z" fill="#c8c8c8"/><path d="M745.8 1288.8L752.2 1300.3H739.4Z" fill="#c8c8c8"/><path d="M761.6 1297.0L768.0 1308.5H755.2Z" fill="#c8c8c8"/><path d="M774.2 1308.1L780.6 1319.6H767.8Z" fill="#c8c8c8"/><path d="M792.3 1312.8L798.7 1324.3H785.9Z" fill="#c8c8c8"/><path d="M786.8 1325.4L793.2 1336.9H780.4Z" fill="#c8c8c8"/><path d="M797.8 1327.0L804.2 1338.5H791.4Z" fill="#c8c8c8"/><path d="M801.7 1334.8L808.1 1346.3H795.3Z" fill="#c8c8c8"/><path d="M806.5 1349.0L812.9 1360.5H800.1Z" fill="#c8c8c8"/><path d="M856.9 1352.2L863.3 1363.7H850.5Z" fill="#c8c8c8"/><path d="M852.9 1364.8L859.3 1376.3H846.5Z" fill="#c8c8c8"/><path d="M834.0 1366.3L840.4 1377.8H827.6Z" fill="#c8c8c8"/><path d="M885.2 1363.2L891.6 1374.7H878.8Z" fill="#c8c8c8"/><path d="M862.4 1373.4L868.8 1384.9H856.0Z" fill="#c8c8c8"/><path d="M848.2 1374.2L854.6 1385.7H841.8Z" fill="#c8c8c8"/><path d="M866.3 1378.9L872.7 1390.4H859.9Z" fill="#c8c8c8"/><path d="M879.7 1378.2L886.1 1389.7H873.3Z" fill="#c8c8c8"/><path d="M898.6 1383.7L905.0 1395.2H892.2Z" fill="#c8c8c8"/><path d="M903.3 1386.8L909.7 1398.3H896.9Z" fill="#c8c8c8"/><path d="M908.0 1391.5L914.4 1403.0H901.6Z" fill="#c8c8c8"/><path d="M931.7 1383.7L938.1 1395.2H925.3Z" fill="#c8c8c8"/><path d="M949.8 1381.3L956.2 1392.8H943.4Z" fill="#c8c8c8"/><path d="M940.3 1391.5L946.7 1403.0H933.9Z" fill="#c8c8c8"/><path d="M945.8 1397.0L952.2 1408.5H939.4Z" fill="#c8c8c8"/><path d="M959.8 1411.1L966.2 1422.6H953.4Z" fill="#c8c8c8"/><path d="M1010.4 1315.6L1016.8 1327.1H1004.0Z" fill="#c8c8c8"/><path d="M1015.9 1318.7L1022.3 1330.2H1009.5Z" fill="#c8c8c8"/><path d="M1029.3 1319.5L1035.7 1331.0H1022.9Z" fill="#c8c8c8"/><path d="M1019.1 1327.4L1025.5 1338.9H1012.7Z" fill="#c8c8c8"/><path d="M1025.4 1330.5L1031.8 1342.0H1019.0Z" fill="#c8c8c8"/><path d="M1062.4 1247.8L1068.8 1259.3H1056.0Z" fill="#c8c8c8"/><path d="M1052.9 1257.3L1059.3 1268.8H1046.5Z" fill="#c8c8c8"/><path d="M1043.5 1266.7L1049.9 1278.2H1037.1Z" fill="#c8c8c8"/><path d="M1039.5 1276.2L1045.9 1287.7H1033.1Z" fill="#c8c8c8"/><path d="M1034.0 1273.0L1040.4 1284.5H1027.6Z" fill="#c8c8c8"/><path d="M1048.2 1254.1L1054.6 1265.6H1041.8Z" fill="#c8c8c8"/><path d="M969.8 1398.3L976.2 1409.8H963.4Z" fill="#c8c8c8"/><path d="M982.4 1415.6L988.8 1427.1H976.0Z" fill="#c8c8c8"/><path d="M972.9 1428.2L979.3 1439.7H966.5Z" fill="#c8c8c8"/><path d="M1187.5 1099.8L1193.9 1111.3H1181.1Z" fill="#c8c8c8"/><path d="M1215.0 1094.3L1221.4 1105.8H1208.6Z" fill="#c8c8c8"/><path d="M1200.9 1111.6L1207.3 1123.1H1194.5Z" fill="#c8c8c8"/><path d="M1206.4 1111.6L1212.8 1123.1H1200.0Z" fill="#c8c8c8"/><path d="M1211.9 1125.0L1218.3 1136.5H1205.5Z" fill="#c8c8c8"/><path d="M1112.7 1126.6L1119.1 1138.1H1106.3Z" fill="#c8c8c8"/><path d="M1117.4 1134.5L1123.8 1146.0H1111.0Z" fill="#c8c8c8"/><path d="M1122.1 1139.2L1128.5 1150.7H1115.7Z" fill="#c8c8c8"/><path d="M1126.9 1143.9L1133.3 1155.4H1120.5Z" fill="#c8c8c8"/><path d="M1131.6 1149.4L1138.0 1160.9H1125.2Z" fill="#c8c8c8"/><path d="M1141.0 1129.7L1147.4 1141.2H1134.6Z" fill="#c8c8c8"/><path d="M1150.5 1125.0L1156.9 1136.5H1144.1Z" fill="#c8c8c8"/><path d="M1145.0 1141.5L1151.4 1153.0H1138.6Z" fill="#c8c8c8"/><path d="M1154.4 1141.5L1160.8 1153.0H1148.0Z" fill="#c8c8c8"/><path d="M1196.9 1145.5L1203.3 1157.0H1190.5Z" fill="#c8c8c8"/><path d="M1192.2 1161.2L1198.6 1172.7H1185.8Z" fill="#c8c8c8"/><path d="M1136.3 1168.3L1142.7 1179.8H1129.9Z" fill="#c8c8c8"/><path d="M1108.0 1172.2L1114.4 1183.7H1101.6Z" fill="#c8c8c8"/><path d="M1094.6 1177.0L1101.0 1188.5H1088.2Z" fill="#c8c8c8"/><path d="M1085.9 1171.5L1092.3 1183.0H1079.5Z" fill="#c8c8c8"/><path d="M1075.7 1164.4L1082.1 1175.9H1069.3Z" fill="#c8c8c8"/><path d="M1071.7 1181.7L1078.1 1193.2H1065.3Z" fill="#c8c8c8"/><path d="M1164.6 1165.2L1171.0 1176.7H1158.2Z" fill="#c8c8c8"/><path d="M1168.6 1167.5L1175.0 1179.0H1162.2Z" fill="#c8c8c8"/><path d="M1177.2 1171.5L1183.6 1183.0H1170.8Z" fill="#c8c8c8"/><path d="M1159.1 1171.5L1165.5 1183.0H1152.7Z" fill="#c8c8c8"/><path d="M1182.8 1186.4L1189.2 1197.9H1176.4Z" fill="#c8c8c8"/><path d="M1104.0 1186.4L1110.4 1197.9H1097.6Z" fill="#c8c8c8"/><path d="M1089.8 1190.4L1096.2 1201.9H1083.4Z" fill="#c8c8c8"/><path d="M1066.3 1217.1L1072.7 1228.6H1059.9Z" fill="#c8c8c8"/><path d="M1056.9 1238.4L1063.3 1249.9H1050.5Z" fill="#c8c8c8"/><path d="M1173.9 1195.7L1180.3 1207.2H1167.5Z" fill="#c8c8c8"/></g>
<g class="W"><path d="M243.5 1015.6L249.9 1027.1H237.1Z" fill="#ffffff"/><path d="M180.5 1024.2L186.9 1035.7H174.1Z" fill="#ffffff"/><path d="M186.0 1028.2L192.4 1039.7H179.6Z" fill="#ffffff"/><path d="M191.5 1040.0L197.9 1051.5H185.1Z" fill="#ffffff"/><path d="M200.9 1050.2L207.3 1061.7H194.5Z" fill="#ffffff"/><path d="M215.1 1033.7L221.5 1045.2H208.7Z" fill="#ffffff"/><path d="M224.6 1051.0L231.0 1062.5H218.2Z" fill="#ffffff"/><path d="M210.4 1058.1L216.8 1069.6H204.0Z" fill="#ffffff"/><path d="M233.2 1064.4L239.6 1075.9H226.8Z" fill="#ffffff"/><path d="M252.9 1075.4L259.3 1086.9H246.5Z" fill="#ffffff"/><path d="M197.8 1077.8L204.2 1089.3H191.4Z" fill="#ffffff"/><path d="M220.6 1084.8L227.0 1096.3H214.2Z" fill="#ffffff"/><path d="M230.1 1086.4L236.5 1097.9H223.7Z" fill="#ffffff"/><path d="M177.3 1088.0L183.7 1099.5H170.9Z" fill="#ffffff"/><path d="M280.5 1082.5L286.9 1094.0H274.1Z" fill="#ffffff"/><path d="M308.0 1069.9L314.4 1081.4H301.6Z" fill="#ffffff"/><path d="M313.5 1073.0L319.9 1084.5H307.1Z" fill="#ffffff"/><path d="M317.5 1052.6L323.9 1064.1H311.1Z" fill="#ffffff"/><path d="M332.4 1058.1L338.8 1069.6H326.0Z" fill="#ffffff"/><path d="M337.2 1048.6L343.6 1060.1H330.8Z" fill="#ffffff"/><path d="M340.3 1031.3L346.7 1042.8H333.9Z" fill="#ffffff"/><path d="M349.8 1060.4L356.2 1071.9H343.4Z" fill="#ffffff"/><path d="M345.8 1085.6L352.2 1097.1H339.4Z" fill="#ffffff"/><path d="M358.4 995.9L364.8 1007.4H352.0Z" fill="#ffffff"/><path d="M352.9 995.9L359.3 1007.4H346.5Z" fill="#ffffff"/><path d="M356.1 1008.5L362.5 1020.0H349.7Z" fill="#ffffff"/><path d="M319.8 1085.6L326.2 1097.1H313.4Z" fill="#ffffff"/><path d="M248.2 1091.9L254.6 1103.4H241.8Z" fill="#ffffff"/><path d="M174.2 1097.0L180.6 1108.5H167.8Z" fill="#ffffff"/><path d="M247.4 1097.8L253.8 1109.3H241.0Z" fill="#ffffff"/><path d="M276.8 1104.9L283.2 1116.4H270.4Z" fill="#ffffff"/><path d="M271.0 1108.9L277.4 1120.4H264.6Z" fill="#ffffff"/><path d="M290.7 1100.2L297.1 1111.7H284.3Z" fill="#ffffff"/><path d="M299.4 1098.6L305.8 1110.1H293.0Z" fill="#ffffff"/><path d="M323.0 1097.8L329.4 1109.3H316.6Z" fill="#ffffff"/><path d="M285.2 1118.3L291.6 1129.8H278.8Z" fill="#ffffff"/><path d="M238.7 1125.4L245.1 1136.9H232.3Z" fill="#ffffff"/><path d="M262.4 1123.8L268.8 1135.3H256.0Z" fill="#ffffff"/><path d="M267.9 1144.3L274.3 1155.8H261.5Z" fill="#ffffff"/><path d="M256.9 1149.8L263.3 1161.3H250.5Z" fill="#ffffff"/><path d="M294.6 1144.3L301.0 1155.8H288.2Z" fill="#ffffff"/><path d="M364.7 998.2L371.1 1009.7H358.3Z" fill="#ffffff"/><path d="M372.6 1017.9L379.0 1029.4H366.2Z" fill="#ffffff"/><path d="M382.0 1021.1L388.4 1032.6H375.6Z" fill="#ffffff"/><path d="M392.3 1032.9L398.7 1044.4H385.9Z" fill="#ffffff"/><path d="M378.9 1041.5L385.3 1053.0H372.5Z" fill="#ffffff"/><path d="M369.4 1048.6L375.8 1060.1H363.0Z" fill="#ffffff"/><path d="M419.8 1036.8L426.2 1048.3H413.4Z" fill="#ffffff"/><path d="M411.2 1047.0L417.6 1058.5H404.8Z" fill="#ffffff"/><path d="M429.3 1043.9L435.7 1055.4H422.9Z" fill="#ffffff"/><path d="M396.2 1057.3L402.6 1068.8H389.8Z" fill="#ffffff"/><path d="M406.5 1057.3L412.9 1068.8H400.1Z" fill="#ffffff"/><path d="M401.7 1063.6L408.1 1075.1H395.3Z" fill="#ffffff"/><path d="M387.6 1072.2L394.0 1083.7H381.2Z" fill="#ffffff"/><path d="M425.4 1067.5L431.8 1079.0H419.0Z" fill="#ffffff"/><path d="M434.8 1061.2L441.2 1072.7H428.4Z" fill="#ffffff"/><path d="M475.7 1021.9L482.1 1033.4H469.3Z" fill="#ffffff"/><path d="M481.3 1036.0L487.7 1047.5H474.9Z" fill="#ffffff"/><path d="M471.8 1043.9L478.2 1055.4H465.4Z" fill="#ffffff"/><path d="M462.4 1051.0L468.8 1062.5H456.0Z" fill="#ffffff"/><path d="M486.0 1057.3L492.4 1068.8H479.6Z" fill="#ffffff"/><path d="M495.4 1062.0L501.8 1073.5H489.0Z" fill="#ffffff"/><path d="M498.6 1034.5L505.0 1046.0H492.2Z" fill="#ffffff"/><path d="M512.8 1036.0L519.2 1047.5H506.4Z" fill="#ffffff"/><path d="M518.3 1040.8L524.7 1052.3H511.9Z" fill="#ffffff"/><path d="M509.6 1052.6L516.0 1064.1H503.2Z" fill="#ffffff"/><path d="M518.3 1061.2L524.7 1072.7H511.9Z" fill="#ffffff"/><path d="M504.1 1083.3L510.5 1094.8H497.7Z" fill="#ffffff"/><path d="M466.3 1087.2L472.7 1098.7H459.9Z" fill="#ffffff"/><path d="M452.1 1089.6L458.5 1101.1H445.7Z" fill="#ffffff"/><path d="M522.2 1088.8L528.6 1100.3H515.8Z" fill="#ffffff"/><path d="M452.1 1095.5L458.5 1107.0H445.7Z" fill="#ffffff"/><path d="M448.2 1105.7L454.6 1117.2H441.8Z" fill="#ffffff"/><path d="M457.6 1105.7L464.0 1117.2H451.2Z" fill="#ffffff"/><path d="M489.9 1103.3L496.3 1114.8H483.5Z" fill="#ffffff"/><path d="M439.5 1114.4L445.9 1125.9H433.1Z" fill="#ffffff"/><path d="M439.5 1132.5L445.9 1144.0H433.1Z" fill="#ffffff"/><path d="M443.5 1139.6L449.9 1151.1H437.1Z" fill="#ffffff"/><path d="M527.7 1112.0L534.1 1123.5H521.3Z" fill="#ffffff"/><path d="M534.8 1116.3L541.2 1127.8H528.4Z" fill="#ffffff"/><path d="M555.3 1114.4L561.7 1125.9H548.9Z" fill="#ffffff"/><path d="M522.2 1130.1L528.6 1141.6H515.8Z" fill="#ffffff"/><path d="M532.4 1129.3L538.8 1140.8H526.0Z" fill="#ffffff"/><path d="M545.0 1130.9L551.4 1142.4H538.6Z" fill="#ffffff"/><path d="M541.1 1136.4L547.5 1147.9H534.7Z" fill="#ffffff"/><path d="M550.6 1152.2L557.0 1163.7H544.2Z" fill="#ffffff"/><path d="M559.6 1169.7L566.0 1181.2H553.2Z" fill="#ffffff"/><path d="M574.2 1115.9L580.6 1127.4H567.8Z" fill="#ffffff"/><path d="M562.4 1128.5L568.8 1140.0H556.0Z" fill="#ffffff"/><path d="M614.3 1138.8L620.7 1150.3H607.9Z" fill="#ffffff"/><path d="M564.7 1151.0L571.1 1162.5H558.3Z" fill="#ffffff"/><path d="M587.6 1148.6L594.0 1160.1H581.2Z" fill="#ffffff"/><path d="M592.3 1159.6L598.7 1171.1H585.9Z" fill="#ffffff"/><path d="M568.7 1164.4L575.1 1175.9H562.3Z" fill="#ffffff"/><path d="M578.9 1165.9L585.3 1177.4H572.5Z" fill="#ffffff"/><path d="M582.8 1171.5L589.2 1183.0H576.4Z" fill="#ffffff"/><path d="M600.9 1173.8L607.3 1185.3H594.5Z" fill="#ffffff"/><path d="M597.0 1180.9L603.4 1192.4H590.6Z" fill="#ffffff"/><path d="M607.2 1176.2L613.6 1187.7H600.8Z" fill="#ffffff"/><path d="M615.1 1189.6L621.5 1201.1H608.7Z" fill="#ffffff"/><path d="M643.5 1177.0L649.9 1188.5H637.1Z" fill="#ffffff"/><path d="M634.8 1197.4L641.2 1208.9H628.4Z" fill="#ffffff"/><path d="M667.1 1191.1L673.5 1202.6H660.7Z" fill="#ffffff"/><path d="M619.8 1207.7L626.2 1219.2H613.4Z" fill="#ffffff"/><path d="M629.3 1210.0L635.7 1221.5H622.9Z" fill="#ffffff"/><path d="M605.7 1218.7L612.1 1230.2H599.3Z" fill="#ffffff"/><path d="M611.2 1228.9L617.6 1240.4H604.8Z" fill="#ffffff"/><path d="M623.8 1223.4L630.2 1234.9H617.4Z" fill="#ffffff"/><path d="M638.7 1220.3L645.1 1231.8H632.3Z" fill="#ffffff"/><path d="M651.3 1228.9L657.7 1240.4H644.9Z" fill="#ffffff"/><path d="M656.9 1229.7L663.3 1241.2H650.5Z" fill="#ffffff"/><path d="M647.4 1244.7L653.8 1256.2H641.0Z" fill="#ffffff"/><path d="M660.8 1240.0L667.2 1251.5H654.4Z" fill="#ffffff"/><path d="M671.0 1242.3L677.4 1253.8H664.6Z" fill="#ffffff"/><path d="M675.7 1237.6L682.1 1249.1H669.3Z" fill="#ffffff"/><path d="M689.9 1218.7L696.3 1230.2H683.5Z" fill="#ffffff"/><path d="M693.9 1225.8L700.3 1237.3H687.5Z" fill="#ffffff"/><path d="M704.1 1247.8L710.5 1259.3H697.7Z" fill="#ffffff"/><path d="M713.5 1260.4L719.9 1271.9H707.1Z" fill="#ffffff"/><path d="M736.4 1267.5L742.8 1279.0H730.0Z" fill="#ffffff"/><path d="M680.5 1273.0L686.9 1284.5H674.1Z" fill="#ffffff"/><path d="M685.2 1279.3L691.6 1290.8H678.8Z" fill="#ffffff"/><path d="M699.4 1279.3L705.8 1290.8H693.0Z" fill="#ffffff"/><path d="M717.5 1285.6L723.9 1297.1H711.1Z" fill="#ffffff"/><path d="M727.7 1277.8L734.1 1289.3H721.3Z" fill="#ffffff"/><path d="M733.2 1275.4L739.6 1286.9H726.8Z" fill="#ffffff"/><path d="M761.6 1334.8L768.0 1346.3H755.2Z" fill="#ffffff"/><path d="M769.4 1319.1L775.8 1330.6H763.0Z" fill="#ffffff"/><path d="M774.2 1321.5L780.6 1333.0H767.8Z" fill="#ffffff"/><path d="M777.3 1341.1L783.7 1352.6H770.9Z" fill="#ffffff"/><path d="M786.0 1349.0L792.4 1360.5H779.6Z" fill="#ffffff"/><path d="M781.3 1350.6L787.7 1362.1H774.9Z" fill="#ffffff"/><path d="M791.5 1333.3L797.9 1344.8H785.1Z" fill="#ffffff"/><path d="M797.0 1348.2L803.4 1359.7H790.6Z" fill="#ffffff"/><path d="M800.9 1357.7L807.3 1369.2H794.5Z" fill="#ffffff"/><path d="M806.5 1367.9L812.9 1379.4H800.1Z" fill="#ffffff"/><path d="M815.1 1359.3L821.5 1370.8H808.7Z" fill="#ffffff"/><path d="M824.6 1364.0L831.0 1375.5H818.2Z" fill="#ffffff"/><path d="M830.1 1354.5L836.5 1366.0H823.7Z" fill="#ffffff"/><path d="M820.6 1378.9L827.0 1390.4H814.2Z" fill="#ffffff"/><path d="M833.2 1377.4L839.6 1388.9H826.8Z" fill="#ffffff"/><path d="M838.7 1401.0L845.1 1412.5H832.3Z" fill="#ffffff"/><path d="M848.2 1382.1L854.6 1393.6H841.8Z" fill="#ffffff"/><path d="M844.3 1388.4L850.7 1399.9H837.9Z" fill="#ffffff"/><path d="M852.9 1396.3L859.3 1407.8H846.5Z" fill="#ffffff"/><path d="M856.9 1373.4L863.3 1384.9H850.5Z" fill="#ffffff"/><path d="M862.4 1398.6L868.8 1410.1H856.0Z" fill="#ffffff"/><path d="M866.3 1390.0L872.7 1401.5H859.9Z" fill="#ffffff"/><path d="M876.5 1382.1L882.9 1393.6H870.1Z" fill="#ffffff"/><path d="M880.5 1397.8L886.9 1409.3H874.1Z" fill="#ffffff"/><path d="M871.0 1412.8L877.4 1424.3H864.6Z" fill="#ffffff"/><path d="M886.0 1412.8L892.4 1424.3H879.6Z" fill="#ffffff"/><path d="M889.9 1378.9L896.3 1390.4H883.5Z" fill="#ffffff"/><path d="M894.6 1371.9L901.0 1383.4H888.2Z" fill="#ffffff"/><path d="M900.2 1404.1L906.6 1415.6H893.8Z" fill="#ffffff"/><path d="M906.5 1401.0L912.9 1412.5H900.1Z" fill="#ffffff"/><path d="M912.8 1401.0L919.2 1412.5H906.4Z" fill="#ffffff"/><path d="M917.5 1394.7L923.9 1406.2H911.1Z" fill="#ffffff"/><path d="M923.8 1404.1L930.2 1415.6H917.4Z" fill="#ffffff"/><path d="M926.9 1418.3L933.3 1429.8H920.5Z" fill="#ffffff"/><path d="M931.7 1404.1L938.1 1415.6H925.3Z" fill="#ffffff"/><path d="M941.1 1415.2L947.5 1426.7H934.7Z" fill="#ffffff"/><path d="M936.4 1421.5L942.8 1433.0H930.0Z" fill="#ffffff"/><path d="M946.6 1429.3L953.0 1440.8H940.2Z" fill="#ffffff"/><path d="M950.6 1407.3L957.0 1418.8H944.2Z" fill="#ffffff"/><path d="M955.3 1421.5L961.7 1433.0H948.9Z" fill="#ffffff"/><path d="M956.9 1416.7L963.3 1428.2H950.5Z" fill="#ffffff"/><path d="M731.8 1302.3L738.2 1313.8H725.4Z" fill="#ffffff"/><path d="M741.3 1298.1L747.7 1309.6H734.9Z" fill="#ffffff"/><path d="M754.5 1308.9L760.9 1320.4H748.1Z" fill="#ffffff"/><path d="M750.7 1317.5L757.1 1329.0H744.3Z" fill="#ffffff"/><path d="M746.0 1326.4L752.4 1337.9H739.6Z" fill="#ffffff"/><path d="M1034.0 1304.5L1040.4 1316.0H1027.6Z" fill="#ffffff"/><path d="M1042.7 1302.2L1049.1 1313.7H1036.3Z" fill="#ffffff"/><path d="M1049.8 1306.9L1056.2 1318.4H1043.4Z" fill="#ffffff"/><path d="M1057.6 1305.3L1064.0 1316.8H1051.2Z" fill="#ffffff"/><path d="M1063.9 1292.7L1070.3 1304.2H1057.5Z" fill="#ffffff"/><path d="M1067.1 1288.8L1073.5 1300.3H1060.7Z" fill="#ffffff"/><path d="M1038.7 1314.8L1045.1 1326.3H1032.3Z" fill="#ffffff"/><path d="M1048.2 1316.3L1054.6 1327.8H1041.8Z" fill="#ffffff"/><path d="M1010.4 1343.1L1016.8 1354.6H1004.0Z" fill="#ffffff"/><path d="M1004.9 1354.1L1011.3 1365.6H998.5Z" fill="#ffffff"/><path d="M1018.3 1352.6L1024.7 1364.1H1011.9Z" fill="#ffffff"/><path d="M1029.3 1351.0L1035.7 1362.5H1022.9Z" fill="#ffffff"/><path d="M1025.4 1359.6L1031.8 1371.1H1019.0Z" fill="#ffffff"/><path d="M1005.7 1359.6L1012.1 1371.1H999.3Z" fill="#ffffff"/><path d="M1075.7 1251.8L1082.1 1263.3H1069.3Z" fill="#ffffff"/><path d="M1086.0 1250.2L1092.4 1261.7H1079.6Z" fill="#ffffff"/><path d="M1089.1 1273.8L1095.5 1285.3H1082.7Z" fill="#ffffff"/><path d="M1094.6 1272.2L1101.0 1283.7H1088.2Z" fill="#ffffff"/><path d="M1104.1 1277.8L1110.5 1289.3H1097.7Z" fill="#ffffff"/><path d="M1108.0 1266.7L1114.4 1278.2H1101.6Z" fill="#ffffff"/><path d="M1098.6 1296.7L1105.0 1308.2H1092.2Z" fill="#ffffff"/><path d="M1122.2 1247.0L1128.6 1258.5H1115.8Z" fill="#ffffff"/><path d="M1131.7 1250.2L1138.1 1261.7H1125.3Z" fill="#ffffff"/><path d="M1136.4 1261.2L1142.8 1272.7H1130.0Z" fill="#ffffff"/><path d="M1145.0 1255.7L1151.4 1267.2H1138.6Z" fill="#ffffff"/><path d="M1153.7 1248.6L1160.1 1260.1H1147.3Z" fill="#ffffff"/><path d="M1158.4 1278.5L1164.8 1290.0H1152.0Z" fill="#ffffff"/><path d="M1001.7 1371.5L1008.1 1383.0H995.3Z" fill="#ffffff"/><path d="M1001.7 1379.3L1008.1 1390.8H995.3Z" fill="#ffffff"/><path d="M991.5 1384.1L997.9 1395.6H985.1Z" fill="#ffffff"/><path d="M982.0 1388.8L988.4 1400.3H975.6Z" fill="#ffffff"/><path d="M969.4 1392.7L975.8 1404.2H963.0Z" fill="#ffffff"/><path d="M969.0 1418.0L975.4 1429.5H962.6Z" fill="#ffffff"/><path d="M979.2 1433.7L985.6 1445.2H972.8Z" fill="#ffffff"/><path d="M973.7 1442.4L980.1 1453.9H967.3Z" fill="#ffffff"/><path d="M992.6 1411.7L999.0 1423.2H986.2Z" fill="#ffffff"/><path d="M982.4 1395.2L988.8 1406.7H976.0Z" fill="#ffffff"/><path d="M987.1 1395.9L993.5 1407.4H980.7Z" fill="#ffffff"/><path d="M996.5 1393.6L1002.9 1405.1H990.1Z" fill="#ffffff"/><path d="M963.5 1421.9L969.9 1433.4H957.1Z" fill="#ffffff"/><path d="M1071.8 1238.4L1078.2 1249.9H1065.4Z" fill="#ffffff"/><path d="M1081.3 1238.4L1087.7 1249.9H1074.9Z" fill="#ffffff"/><path d="M1141.1 1231.3L1147.5 1242.8H1134.7Z" fill="#ffffff"/><path d="M1150.6 1235.2L1157.0 1246.7H1144.2Z" fill="#ffffff"/><path d="M1112.8 1239.2L1119.2 1250.7H1106.4Z" fill="#ffffff"/><path d="M1121.4 1242.3L1127.8 1253.8H1115.0Z" fill="#ffffff"/><path d="M1188.2 1203.4L1194.6 1214.9H1181.8Z" fill="#ffffff"/><path d="M1215.2 1197.9L1221.6 1209.4H1208.8Z" fill="#ffffff"/><path d="M1200.9 1208.4L1207.3 1219.9H1194.5Z" fill="#ffffff"/><path d="M1205.8 1213.9L1212.2 1225.4H1199.4Z" fill="#ffffff"/><path d="M1211.3 1218.9L1217.7 1230.4H1204.9Z" fill="#ffffff"/><path d="M1197.0 1245.9L1203.4 1257.4H1190.6Z" fill="#ffffff"/><path d="M1192.0 1249.7L1198.4 1261.2H1185.6Z" fill="#ffffff"/><path d="M1177.2 1262.9L1183.6 1274.4H1170.8Z" fill="#ffffff"/><path d="M1182.7 1269.0L1189.1 1280.5H1176.3Z" fill="#ffffff"/><path d="M1168.4 1265.2L1174.8 1276.7H1162.0Z" fill="#ffffff"/><path d="M1165.0 1269.6L1171.4 1281.1H1158.6Z" fill="#ffffff"/><path d="M1173.3 1282.3L1179.7 1293.8H1166.9Z" fill="#ffffff"/><path d="M283.3 1103.2L289.7 1114.7H276.9Z" fill="#ffffff"/><path d="M443.0 1106.9L449.4 1118.4H436.6Z" fill="#ffffff"/></g>
<rect x="130.1" y="1391.2" width="309.2" height="162.8" fill="#d9d9d9"/>
<circle cx="176.9" cy="1409.5" r="5.9" fill="#aa0000" stroke="#111" stroke-width="1.2"/>
<circle cx="176.9" cy="1451.8" r="5.9" fill="#7199d3" stroke="#111" stroke-width="1.2"/>
<path d="M176.9 1485.8000000000002L183.3 1498.2H170.5Z" fill="#c8c8c8" stroke="#111" stroke-width="1.5" stroke-linejoin="round"/>
<path d="M176.9 1526.5L183.3 1538.8999999999999H170.5Z" fill="#fff" stroke="#111" stroke-width="1.5" stroke-linejoin="round"/>
<text class="lg" x="189.7" y="1417.8" style="letter-spacing:0.3px">H10</text>
<text class="lg" x="189.7" y="1460.1" style="letter-spacing:0.45px">Movesense Medical</text>
<text class="lg" x="189.7" y="1500.7" style="letter-spacing:-0.5px">Lead 2</text>
<text class="lg" x="189.7" y="1541.4" style="letter-spacing:-0.45px">Lead V3</text>
</svg></body></html>
